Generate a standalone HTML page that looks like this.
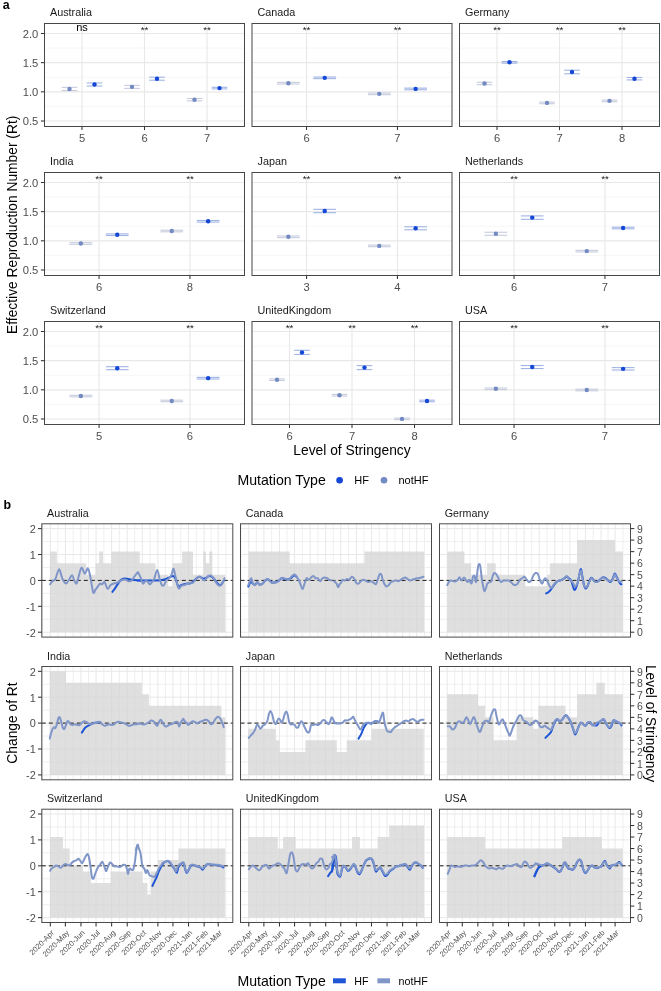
<!DOCTYPE html>
<html><head><meta charset="utf-8"><style>
html,body{margin:0;padding:0;background:#fff;}
svg{display:block;will-change:transform;}
text{font-family:"Liberation Sans",sans-serif;}
</style></head><body>
<svg width="661" height="991" viewBox="0 0 661 991">
<text x="50.0" y="16.2" font-size="10.8" fill="#1a1a1a">Australia</text>
<rect x="44.5" y="23.5" width="200" height="103" fill="#fff"/>
<line x1="44.5" x2="244.5" y1="48.08" y2="48.08" stroke="#f3f3f3" stroke-width="0.7"/>
<line x1="44.5" x2="244.5" y1="77.25" y2="77.25" stroke="#f3f3f3" stroke-width="0.7"/>
<line x1="44.5" x2="244.5" y1="106.41" y2="106.41" stroke="#f3f3f3" stroke-width="0.7"/>
<line x1="44.5" x2="244.5" y1="33.50" y2="33.50" stroke="#e8e8e8" stroke-width="1.1"/>
<line x1="44.5" x2="244.5" y1="62.66" y2="62.66" stroke="#e8e8e8" stroke-width="1.1"/>
<line x1="44.5" x2="244.5" y1="91.83" y2="91.83" stroke="#e8e8e8" stroke-width="1.1"/>
<line x1="44.5" x2="244.5" y1="121.00" y2="121.00" stroke="#e8e8e8" stroke-width="1.1"/>
<line x1="82.00" x2="82.00" y1="23.5" y2="126.5" stroke="#e8e8e8" stroke-width="1.1"/>
<line x1="144.50" x2="144.50" y1="23.5" y2="126.5" stroke="#e8e8e8" stroke-width="1.1"/>
<line x1="207.00" x2="207.00" y1="23.5" y2="126.5" stroke="#e8e8e8" stroke-width="1.1"/>
<line x1="61.69" x2="77.31" y1="87.37" y2="87.37" stroke="#c6ccdd" stroke-width="1.1"/>
<line x1="61.69" x2="77.31" y1="90.57" y2="90.57" stroke="#c6ccdd" stroke-width="1.1"/>
<circle cx="69.50" cy="88.97" r="2.2" fill="#7389c2"/>
<line x1="86.69" x2="102.31" y1="82.98" y2="82.98" stroke="#9fb3e4" stroke-width="1.1"/>
<line x1="86.69" x2="102.31" y1="85.98" y2="85.98" stroke="#9fb3e4" stroke-width="1.1"/>
<circle cx="94.50" cy="84.48" r="2.2" fill="#1547d6"/>
<text x="82.00" y="30.9" font-size="11" text-anchor="middle" fill="#000">ns</text>
<line x1="124.19" x2="139.81" y1="85.37" y2="85.37" stroke="#c6ccdd" stroke-width="1.1"/>
<line x1="124.19" x2="139.81" y1="88.37" y2="88.37" stroke="#c6ccdd" stroke-width="1.1"/>
<circle cx="132.00" cy="86.87" r="2.2" fill="#7389c2"/>
<line x1="149.19" x2="164.81" y1="77.21" y2="77.21" stroke="#9fb3e4" stroke-width="1.1"/>
<line x1="149.19" x2="164.81" y1="80.21" y2="80.21" stroke="#9fb3e4" stroke-width="1.1"/>
<circle cx="157.00" cy="78.71" r="2.2" fill="#1547d6"/>
<text x="144.50" y="32.5" font-size="9.8" text-anchor="middle" fill="#111">**</text>
<line x1="186.69" x2="202.31" y1="98.50" y2="98.50" stroke="#c6ccdd" stroke-width="1.1"/>
<line x1="186.69" x2="202.31" y1="100.90" y2="100.90" stroke="#c6ccdd" stroke-width="1.1"/>
<circle cx="194.50" cy="99.70" r="2.2" fill="#7389c2"/>
<line x1="211.69" x2="227.31" y1="87.30" y2="87.30" stroke="#9fb3e4" stroke-width="1.1"/>
<line x1="211.69" x2="227.31" y1="88.90" y2="88.90" stroke="#9fb3e4" stroke-width="1.1"/>
<circle cx="219.50" cy="88.10" r="2.2" fill="#1547d6"/>
<text x="207.00" y="32.5" font-size="9.8" text-anchor="middle" fill="#111">**</text>
<rect x="44.5" y="23.5" width="200" height="103" fill="none" stroke="#474747" stroke-width="1.0"/>
<line x1="82.00" x2="82.00" y1="126.5" y2="130.1" stroke="#333" stroke-width="1.05"/>
<text x="82.00" y="141.7" font-size="11.2" text-anchor="middle" fill="#4d4d4d">5</text>
<line x1="144.50" x2="144.50" y1="126.5" y2="130.1" stroke="#333" stroke-width="1.05"/>
<text x="144.50" y="141.7" font-size="11.2" text-anchor="middle" fill="#4d4d4d">6</text>
<line x1="207.00" x2="207.00" y1="126.5" y2="130.1" stroke="#333" stroke-width="1.05"/>
<text x="207.00" y="141.7" font-size="11.2" text-anchor="middle" fill="#4d4d4d">7</text>
<line x1="40.9" x2="44.5" y1="33.50" y2="33.50" stroke="#333" stroke-width="1.05"/>
<text x="38.3" y="37.90" font-size="11.2" text-anchor="end" fill="#4d4d4d">2.0</text>
<line x1="40.9" x2="44.5" y1="62.66" y2="62.66" stroke="#333" stroke-width="1.05"/>
<text x="38.3" y="67.06" font-size="11.2" text-anchor="end" fill="#4d4d4d">1.5</text>
<line x1="40.9" x2="44.5" y1="91.83" y2="91.83" stroke="#333" stroke-width="1.05"/>
<text x="38.3" y="96.23" font-size="11.2" text-anchor="end" fill="#4d4d4d">1.0</text>
<line x1="40.9" x2="44.5" y1="121.00" y2="121.00" stroke="#333" stroke-width="1.05"/>
<text x="38.3" y="125.40" font-size="11.2" text-anchor="end" fill="#4d4d4d">0.5</text>
<text x="257.5" y="16.2" font-size="10.8" fill="#1a1a1a">Canada</text>
<rect x="252" y="23.5" width="200" height="103" fill="#fff"/>
<line x1="252" x2="452" y1="48.08" y2="48.08" stroke="#f3f3f3" stroke-width="0.7"/>
<line x1="252" x2="452" y1="77.25" y2="77.25" stroke="#f3f3f3" stroke-width="0.7"/>
<line x1="252" x2="452" y1="106.41" y2="106.41" stroke="#f3f3f3" stroke-width="0.7"/>
<line x1="252" x2="452" y1="33.50" y2="33.50" stroke="#e8e8e8" stroke-width="1.1"/>
<line x1="252" x2="452" y1="62.66" y2="62.66" stroke="#e8e8e8" stroke-width="1.1"/>
<line x1="252" x2="452" y1="91.83" y2="91.83" stroke="#e8e8e8" stroke-width="1.1"/>
<line x1="252" x2="452" y1="121.00" y2="121.00" stroke="#e8e8e8" stroke-width="1.1"/>
<line x1="306.55" x2="306.55" y1="23.5" y2="126.5" stroke="#e8e8e8" stroke-width="1.1"/>
<line x1="397.45" x2="397.45" y1="23.5" y2="126.5" stroke="#e8e8e8" stroke-width="1.1"/>
<line x1="277.00" x2="299.73" y1="82.40" y2="82.40" stroke="#c6ccdd" stroke-width="1.1"/>
<line x1="277.00" x2="299.73" y1="84.00" y2="84.00" stroke="#c6ccdd" stroke-width="1.1"/>
<circle cx="288.36" cy="83.20" r="2.2" fill="#7389c2"/>
<line x1="313.36" x2="336.09" y1="77.03" y2="77.03" stroke="#9fb3e4" stroke-width="1.1"/>
<line x1="313.36" x2="336.09" y1="78.63" y2="78.63" stroke="#9fb3e4" stroke-width="1.1"/>
<circle cx="324.73" cy="77.83" r="2.2" fill="#1547d6"/>
<text x="306.55" y="32.5" font-size="9.8" text-anchor="middle" fill="#111">**</text>
<line x1="367.91" x2="390.64" y1="93.07" y2="93.07" stroke="#c6ccdd" stroke-width="1.1"/>
<line x1="367.91" x2="390.64" y1="94.67" y2="94.67" stroke="#c6ccdd" stroke-width="1.1"/>
<circle cx="379.27" cy="93.87" r="2.2" fill="#7389c2"/>
<line x1="404.27" x2="427.00" y1="88.11" y2="88.11" stroke="#9fb3e4" stroke-width="1.1"/>
<line x1="404.27" x2="427.00" y1="89.71" y2="89.71" stroke="#9fb3e4" stroke-width="1.1"/>
<circle cx="415.64" cy="88.91" r="2.2" fill="#1547d6"/>
<text x="397.45" y="32.5" font-size="9.8" text-anchor="middle" fill="#111">**</text>
<rect x="252" y="23.5" width="200" height="103" fill="none" stroke="#474747" stroke-width="1.0"/>
<line x1="306.55" x2="306.55" y1="126.5" y2="130.1" stroke="#333" stroke-width="1.05"/>
<text x="306.55" y="141.7" font-size="11.2" text-anchor="middle" fill="#4d4d4d">6</text>
<line x1="397.45" x2="397.45" y1="126.5" y2="130.1" stroke="#333" stroke-width="1.05"/>
<text x="397.45" y="141.7" font-size="11.2" text-anchor="middle" fill="#4d4d4d">7</text>
<text x="465.0" y="16.2" font-size="10.8" fill="#1a1a1a">Germany</text>
<rect x="459.5" y="23.5" width="200" height="103" fill="#fff"/>
<line x1="459.5" x2="659.5" y1="48.08" y2="48.08" stroke="#f3f3f3" stroke-width="0.7"/>
<line x1="459.5" x2="659.5" y1="77.25" y2="77.25" stroke="#f3f3f3" stroke-width="0.7"/>
<line x1="459.5" x2="659.5" y1="106.41" y2="106.41" stroke="#f3f3f3" stroke-width="0.7"/>
<line x1="459.5" x2="659.5" y1="33.50" y2="33.50" stroke="#e8e8e8" stroke-width="1.1"/>
<line x1="459.5" x2="659.5" y1="62.66" y2="62.66" stroke="#e8e8e8" stroke-width="1.1"/>
<line x1="459.5" x2="659.5" y1="91.83" y2="91.83" stroke="#e8e8e8" stroke-width="1.1"/>
<line x1="459.5" x2="659.5" y1="121.00" y2="121.00" stroke="#e8e8e8" stroke-width="1.1"/>
<line x1="497.00" x2="497.00" y1="23.5" y2="126.5" stroke="#e8e8e8" stroke-width="1.1"/>
<line x1="559.50" x2="559.50" y1="23.5" y2="126.5" stroke="#e8e8e8" stroke-width="1.1"/>
<line x1="622.00" x2="622.00" y1="23.5" y2="126.5" stroke="#e8e8e8" stroke-width="1.1"/>
<line x1="476.69" x2="492.31" y1="82.29" y2="82.29" stroke="#c6ccdd" stroke-width="1.1"/>
<line x1="476.69" x2="492.31" y1="84.69" y2="84.69" stroke="#c6ccdd" stroke-width="1.1"/>
<circle cx="484.50" cy="83.49" r="2.2" fill="#7389c2"/>
<line x1="501.69" x2="517.31" y1="61.52" y2="61.52" stroke="#9fb3e4" stroke-width="1.1"/>
<line x1="501.69" x2="517.31" y1="63.12" y2="63.12" stroke="#9fb3e4" stroke-width="1.1"/>
<circle cx="509.50" cy="62.32" r="2.2" fill="#1547d6"/>
<text x="497.00" y="32.5" font-size="9.8" text-anchor="middle" fill="#111">**</text>
<line x1="539.19" x2="554.81" y1="102.11" y2="102.11" stroke="#c6ccdd" stroke-width="1.1"/>
<line x1="539.19" x2="554.81" y1="103.71" y2="103.71" stroke="#c6ccdd" stroke-width="1.1"/>
<circle cx="547.00" cy="102.91" r="2.2" fill="#7389c2"/>
<line x1="564.19" x2="579.81" y1="70.20" y2="70.20" stroke="#9fb3e4" stroke-width="1.1"/>
<line x1="564.19" x2="579.81" y1="73.80" y2="73.80" stroke="#9fb3e4" stroke-width="1.1"/>
<circle cx="572.00" cy="72.00" r="2.2" fill="#1547d6"/>
<text x="559.50" y="32.5" font-size="9.8" text-anchor="middle" fill="#111">**</text>
<line x1="601.69" x2="617.31" y1="100.07" y2="100.07" stroke="#c6ccdd" stroke-width="1.1"/>
<line x1="601.69" x2="617.31" y1="101.67" y2="101.67" stroke="#c6ccdd" stroke-width="1.1"/>
<circle cx="609.50" cy="100.87" r="2.2" fill="#7389c2"/>
<line x1="626.69" x2="642.31" y1="77.51" y2="77.51" stroke="#9fb3e4" stroke-width="1.1"/>
<line x1="626.69" x2="642.31" y1="79.91" y2="79.91" stroke="#9fb3e4" stroke-width="1.1"/>
<circle cx="634.50" cy="78.71" r="2.2" fill="#1547d6"/>
<text x="622.00" y="32.5" font-size="9.8" text-anchor="middle" fill="#111">**</text>
<rect x="459.5" y="23.5" width="200" height="103" fill="none" stroke="#474747" stroke-width="1.0"/>
<line x1="497.00" x2="497.00" y1="126.5" y2="130.1" stroke="#333" stroke-width="1.05"/>
<text x="497.00" y="141.7" font-size="11.2" text-anchor="middle" fill="#4d4d4d">6</text>
<line x1="559.50" x2="559.50" y1="126.5" y2="130.1" stroke="#333" stroke-width="1.05"/>
<text x="559.50" y="141.7" font-size="11.2" text-anchor="middle" fill="#4d4d4d">7</text>
<line x1="622.00" x2="622.00" y1="126.5" y2="130.1" stroke="#333" stroke-width="1.05"/>
<text x="622.00" y="141.7" font-size="11.2" text-anchor="middle" fill="#4d4d4d">8</text>
<text x="50.0" y="165.2" font-size="10.8" fill="#1a1a1a">India</text>
<rect x="44.5" y="172.5" width="200" height="103" fill="#fff"/>
<line x1="44.5" x2="244.5" y1="197.08" y2="197.08" stroke="#f3f3f3" stroke-width="0.7"/>
<line x1="44.5" x2="244.5" y1="226.25" y2="226.25" stroke="#f3f3f3" stroke-width="0.7"/>
<line x1="44.5" x2="244.5" y1="255.41" y2="255.41" stroke="#f3f3f3" stroke-width="0.7"/>
<line x1="44.5" x2="244.5" y1="182.50" y2="182.50" stroke="#e8e8e8" stroke-width="1.1"/>
<line x1="44.5" x2="244.5" y1="211.66" y2="211.66" stroke="#e8e8e8" stroke-width="1.1"/>
<line x1="44.5" x2="244.5" y1="240.83" y2="240.83" stroke="#e8e8e8" stroke-width="1.1"/>
<line x1="44.5" x2="244.5" y1="270.00" y2="270.00" stroke="#e8e8e8" stroke-width="1.1"/>
<line x1="99.05" x2="99.05" y1="172.5" y2="275.5" stroke="#e8e8e8" stroke-width="1.1"/>
<line x1="189.95" x2="189.95" y1="172.5" y2="275.5" stroke="#e8e8e8" stroke-width="1.1"/>
<line x1="69.50" x2="92.23" y1="242.71" y2="242.71" stroke="#c6ccdd" stroke-width="1.1"/>
<line x1="69.50" x2="92.23" y1="244.31" y2="244.31" stroke="#c6ccdd" stroke-width="1.1"/>
<circle cx="80.86" cy="243.51" r="2.2" fill="#7389c2"/>
<line x1="105.86" x2="128.59" y1="233.91" y2="233.91" stroke="#9fb3e4" stroke-width="1.1"/>
<line x1="105.86" x2="128.59" y1="235.51" y2="235.51" stroke="#9fb3e4" stroke-width="1.1"/>
<circle cx="117.23" cy="234.71" r="2.2" fill="#1547d6"/>
<text x="99.05" y="181.5" font-size="9.8" text-anchor="middle" fill="#111">**</text>
<line x1="160.41" x2="183.14" y1="230.23" y2="230.23" stroke="#c6ccdd" stroke-width="1.1"/>
<line x1="160.41" x2="183.14" y1="231.83" y2="231.83" stroke="#c6ccdd" stroke-width="1.1"/>
<circle cx="171.77" cy="231.03" r="2.2" fill="#7389c2"/>
<line x1="196.77" x2="219.50" y1="220.49" y2="220.49" stroke="#9fb3e4" stroke-width="1.1"/>
<line x1="196.77" x2="219.50" y1="222.09" y2="222.09" stroke="#9fb3e4" stroke-width="1.1"/>
<circle cx="208.14" cy="221.29" r="2.2" fill="#1547d6"/>
<text x="189.95" y="181.5" font-size="9.8" text-anchor="middle" fill="#111">**</text>
<rect x="44.5" y="172.5" width="200" height="103" fill="none" stroke="#474747" stroke-width="1.0"/>
<line x1="99.05" x2="99.05" y1="275.5" y2="279.1" stroke="#333" stroke-width="1.05"/>
<text x="99.05" y="290.7" font-size="11.2" text-anchor="middle" fill="#4d4d4d">6</text>
<line x1="189.95" x2="189.95" y1="275.5" y2="279.1" stroke="#333" stroke-width="1.05"/>
<text x="189.95" y="290.7" font-size="11.2" text-anchor="middle" fill="#4d4d4d">8</text>
<line x1="40.9" x2="44.5" y1="182.50" y2="182.50" stroke="#333" stroke-width="1.05"/>
<text x="38.3" y="186.90" font-size="11.2" text-anchor="end" fill="#4d4d4d">2.0</text>
<line x1="40.9" x2="44.5" y1="211.66" y2="211.66" stroke="#333" stroke-width="1.05"/>
<text x="38.3" y="216.06" font-size="11.2" text-anchor="end" fill="#4d4d4d">1.5</text>
<line x1="40.9" x2="44.5" y1="240.83" y2="240.83" stroke="#333" stroke-width="1.05"/>
<text x="38.3" y="245.23" font-size="11.2" text-anchor="end" fill="#4d4d4d">1.0</text>
<line x1="40.9" x2="44.5" y1="270.00" y2="270.00" stroke="#333" stroke-width="1.05"/>
<text x="38.3" y="274.39" font-size="11.2" text-anchor="end" fill="#4d4d4d">0.5</text>
<text x="257.5" y="165.2" font-size="10.8" fill="#1a1a1a">Japan</text>
<rect x="252" y="172.5" width="200" height="103" fill="#fff"/>
<line x1="252" x2="452" y1="197.08" y2="197.08" stroke="#f3f3f3" stroke-width="0.7"/>
<line x1="252" x2="452" y1="226.25" y2="226.25" stroke="#f3f3f3" stroke-width="0.7"/>
<line x1="252" x2="452" y1="255.41" y2="255.41" stroke="#f3f3f3" stroke-width="0.7"/>
<line x1="252" x2="452" y1="182.50" y2="182.50" stroke="#e8e8e8" stroke-width="1.1"/>
<line x1="252" x2="452" y1="211.66" y2="211.66" stroke="#e8e8e8" stroke-width="1.1"/>
<line x1="252" x2="452" y1="240.83" y2="240.83" stroke="#e8e8e8" stroke-width="1.1"/>
<line x1="252" x2="452" y1="270.00" y2="270.00" stroke="#e8e8e8" stroke-width="1.1"/>
<line x1="306.55" x2="306.55" y1="172.5" y2="275.5" stroke="#e8e8e8" stroke-width="1.1"/>
<line x1="397.45" x2="397.45" y1="172.5" y2="275.5" stroke="#e8e8e8" stroke-width="1.1"/>
<line x1="277.00" x2="299.73" y1="236.01" y2="236.01" stroke="#c6ccdd" stroke-width="1.1"/>
<line x1="277.00" x2="299.73" y1="237.61" y2="237.61" stroke="#c6ccdd" stroke-width="1.1"/>
<circle cx="288.36" cy="236.81" r="2.2" fill="#7389c2"/>
<line x1="313.36" x2="336.09" y1="209.32" y2="209.32" stroke="#9fb3e4" stroke-width="1.1"/>
<line x1="313.36" x2="336.09" y1="212.72" y2="212.72" stroke="#9fb3e4" stroke-width="1.1"/>
<circle cx="324.73" cy="211.02" r="2.2" fill="#1547d6"/>
<text x="306.55" y="181.5" font-size="9.8" text-anchor="middle" fill="#111">**</text>
<line x1="367.91" x2="390.64" y1="245.10" y2="245.10" stroke="#c6ccdd" stroke-width="1.1"/>
<line x1="367.91" x2="390.64" y1="246.70" y2="246.70" stroke="#c6ccdd" stroke-width="1.1"/>
<circle cx="379.27" cy="245.90" r="2.2" fill="#7389c2"/>
<line x1="404.27" x2="427.00" y1="226.79" y2="226.79" stroke="#9fb3e4" stroke-width="1.1"/>
<line x1="404.27" x2="427.00" y1="229.79" y2="229.79" stroke="#9fb3e4" stroke-width="1.1"/>
<circle cx="415.64" cy="228.29" r="2.2" fill="#1547d6"/>
<text x="397.45" y="181.5" font-size="9.8" text-anchor="middle" fill="#111">**</text>
<rect x="252" y="172.5" width="200" height="103" fill="none" stroke="#474747" stroke-width="1.0"/>
<line x1="306.55" x2="306.55" y1="275.5" y2="279.1" stroke="#333" stroke-width="1.05"/>
<text x="306.55" y="290.7" font-size="11.2" text-anchor="middle" fill="#4d4d4d">3</text>
<line x1="397.45" x2="397.45" y1="275.5" y2="279.1" stroke="#333" stroke-width="1.05"/>
<text x="397.45" y="290.7" font-size="11.2" text-anchor="middle" fill="#4d4d4d">4</text>
<text x="465.0" y="165.2" font-size="10.8" fill="#1a1a1a">Netherlands</text>
<rect x="459.5" y="172.5" width="200" height="103" fill="#fff"/>
<line x1="459.5" x2="659.5" y1="197.08" y2="197.08" stroke="#f3f3f3" stroke-width="0.7"/>
<line x1="459.5" x2="659.5" y1="226.25" y2="226.25" stroke="#f3f3f3" stroke-width="0.7"/>
<line x1="459.5" x2="659.5" y1="255.41" y2="255.41" stroke="#f3f3f3" stroke-width="0.7"/>
<line x1="459.5" x2="659.5" y1="182.50" y2="182.50" stroke="#e8e8e8" stroke-width="1.1"/>
<line x1="459.5" x2="659.5" y1="211.66" y2="211.66" stroke="#e8e8e8" stroke-width="1.1"/>
<line x1="459.5" x2="659.5" y1="240.83" y2="240.83" stroke="#e8e8e8" stroke-width="1.1"/>
<line x1="459.5" x2="659.5" y1="270.00" y2="270.00" stroke="#e8e8e8" stroke-width="1.1"/>
<line x1="514.05" x2="514.05" y1="172.5" y2="275.5" stroke="#e8e8e8" stroke-width="1.1"/>
<line x1="604.95" x2="604.95" y1="172.5" y2="275.5" stroke="#e8e8e8" stroke-width="1.1"/>
<line x1="484.50" x2="507.23" y1="232.27" y2="232.27" stroke="#c6ccdd" stroke-width="1.1"/>
<line x1="484.50" x2="507.23" y1="235.27" y2="235.27" stroke="#c6ccdd" stroke-width="1.1"/>
<circle cx="495.86" cy="233.77" r="2.2" fill="#7389c2"/>
<line x1="520.86" x2="543.59" y1="215.91" y2="215.91" stroke="#9fb3e4" stroke-width="1.1"/>
<line x1="520.86" x2="543.59" y1="219.31" y2="219.31" stroke="#9fb3e4" stroke-width="1.1"/>
<circle cx="532.23" cy="217.61" r="2.2" fill="#1547d6"/>
<text x="514.05" y="181.5" font-size="9.8" text-anchor="middle" fill="#111">**</text>
<line x1="575.41" x2="598.14" y1="250.30" y2="250.30" stroke="#c6ccdd" stroke-width="1.1"/>
<line x1="575.41" x2="598.14" y1="251.90" y2="251.90" stroke="#c6ccdd" stroke-width="1.1"/>
<circle cx="586.77" cy="251.10" r="2.2" fill="#7389c2"/>
<line x1="611.77" x2="634.50" y1="227.20" y2="227.20" stroke="#9fb3e4" stroke-width="1.1"/>
<line x1="611.77" x2="634.50" y1="228.80" y2="228.80" stroke="#9fb3e4" stroke-width="1.1"/>
<circle cx="623.14" cy="228.00" r="2.2" fill="#1547d6"/>
<text x="604.95" y="181.5" font-size="9.8" text-anchor="middle" fill="#111">**</text>
<rect x="459.5" y="172.5" width="200" height="103" fill="none" stroke="#474747" stroke-width="1.0"/>
<line x1="514.05" x2="514.05" y1="275.5" y2="279.1" stroke="#333" stroke-width="1.05"/>
<text x="514.05" y="290.7" font-size="11.2" text-anchor="middle" fill="#4d4d4d">6</text>
<line x1="604.95" x2="604.95" y1="275.5" y2="279.1" stroke="#333" stroke-width="1.05"/>
<text x="604.95" y="290.7" font-size="11.2" text-anchor="middle" fill="#4d4d4d">7</text>
<text x="50.0" y="314.2" font-size="10.8" fill="#1a1a1a">Switzerland</text>
<rect x="44.5" y="321.5" width="200" height="103" fill="#fff"/>
<line x1="44.5" x2="244.5" y1="346.08" y2="346.08" stroke="#f3f3f3" stroke-width="0.7"/>
<line x1="44.5" x2="244.5" y1="375.25" y2="375.25" stroke="#f3f3f3" stroke-width="0.7"/>
<line x1="44.5" x2="244.5" y1="404.41" y2="404.41" stroke="#f3f3f3" stroke-width="0.7"/>
<line x1="44.5" x2="244.5" y1="331.50" y2="331.50" stroke="#e8e8e8" stroke-width="1.1"/>
<line x1="44.5" x2="244.5" y1="360.67" y2="360.67" stroke="#e8e8e8" stroke-width="1.1"/>
<line x1="44.5" x2="244.5" y1="389.83" y2="389.83" stroke="#e8e8e8" stroke-width="1.1"/>
<line x1="44.5" x2="244.5" y1="419.00" y2="419.00" stroke="#e8e8e8" stroke-width="1.1"/>
<line x1="99.05" x2="99.05" y1="321.5" y2="424.5" stroke="#e8e8e8" stroke-width="1.1"/>
<line x1="189.95" x2="189.95" y1="321.5" y2="424.5" stroke="#e8e8e8" stroke-width="1.1"/>
<line x1="69.50" x2="92.23" y1="395.27" y2="395.27" stroke="#c6ccdd" stroke-width="1.1"/>
<line x1="69.50" x2="92.23" y1="396.87" y2="396.87" stroke="#c6ccdd" stroke-width="1.1"/>
<circle cx="80.86" cy="396.07" r="2.2" fill="#7389c2"/>
<line x1="105.86" x2="128.59" y1="366.69" y2="366.69" stroke="#9fb3e4" stroke-width="1.1"/>
<line x1="105.86" x2="128.59" y1="369.69" y2="369.69" stroke="#9fb3e4" stroke-width="1.1"/>
<circle cx="117.23" cy="368.19" r="2.2" fill="#1547d6"/>
<text x="99.05" y="330.5" font-size="9.8" text-anchor="middle" fill="#111">**</text>
<line x1="160.41" x2="183.14" y1="400.17" y2="400.17" stroke="#c6ccdd" stroke-width="1.1"/>
<line x1="160.41" x2="183.14" y1="401.77" y2="401.77" stroke="#c6ccdd" stroke-width="1.1"/>
<circle cx="171.77" cy="400.97" r="2.2" fill="#7389c2"/>
<line x1="196.77" x2="219.50" y1="377.36" y2="377.36" stroke="#9fb3e4" stroke-width="1.1"/>
<line x1="196.77" x2="219.50" y1="378.96" y2="378.96" stroke="#9fb3e4" stroke-width="1.1"/>
<circle cx="208.14" cy="378.16" r="2.2" fill="#1547d6"/>
<text x="189.95" y="330.5" font-size="9.8" text-anchor="middle" fill="#111">**</text>
<rect x="44.5" y="321.5" width="200" height="103" fill="none" stroke="#474747" stroke-width="1.0"/>
<line x1="99.05" x2="99.05" y1="424.5" y2="428.1" stroke="#333" stroke-width="1.05"/>
<text x="99.05" y="439.7" font-size="11.2" text-anchor="middle" fill="#4d4d4d">5</text>
<line x1="189.95" x2="189.95" y1="424.5" y2="428.1" stroke="#333" stroke-width="1.05"/>
<text x="189.95" y="439.7" font-size="11.2" text-anchor="middle" fill="#4d4d4d">6</text>
<line x1="40.9" x2="44.5" y1="331.50" y2="331.50" stroke="#333" stroke-width="1.05"/>
<text x="38.3" y="335.90" font-size="11.2" text-anchor="end" fill="#4d4d4d">2.0</text>
<line x1="40.9" x2="44.5" y1="360.67" y2="360.67" stroke="#333" stroke-width="1.05"/>
<text x="38.3" y="365.06" font-size="11.2" text-anchor="end" fill="#4d4d4d">1.5</text>
<line x1="40.9" x2="44.5" y1="389.83" y2="389.83" stroke="#333" stroke-width="1.05"/>
<text x="38.3" y="394.23" font-size="11.2" text-anchor="end" fill="#4d4d4d">1.0</text>
<line x1="40.9" x2="44.5" y1="419.00" y2="419.00" stroke="#333" stroke-width="1.05"/>
<text x="38.3" y="423.39" font-size="11.2" text-anchor="end" fill="#4d4d4d">0.5</text>
<text x="257.5" y="314.2" font-size="10.8" fill="#1a1a1a">UnitedKingdom</text>
<rect x="252" y="321.5" width="200" height="103" fill="#fff"/>
<line x1="252" x2="452" y1="346.08" y2="346.08" stroke="#f3f3f3" stroke-width="0.7"/>
<line x1="252" x2="452" y1="375.25" y2="375.25" stroke="#f3f3f3" stroke-width="0.7"/>
<line x1="252" x2="452" y1="404.41" y2="404.41" stroke="#f3f3f3" stroke-width="0.7"/>
<line x1="252" x2="452" y1="331.50" y2="331.50" stroke="#e8e8e8" stroke-width="1.1"/>
<line x1="252" x2="452" y1="360.67" y2="360.67" stroke="#e8e8e8" stroke-width="1.1"/>
<line x1="252" x2="452" y1="389.83" y2="389.83" stroke="#e8e8e8" stroke-width="1.1"/>
<line x1="252" x2="452" y1="419.00" y2="419.00" stroke="#e8e8e8" stroke-width="1.1"/>
<line x1="289.50" x2="289.50" y1="321.5" y2="424.5" stroke="#e8e8e8" stroke-width="1.1"/>
<line x1="352.00" x2="352.00" y1="321.5" y2="424.5" stroke="#e8e8e8" stroke-width="1.1"/>
<line x1="414.50" x2="414.50" y1="321.5" y2="424.5" stroke="#e8e8e8" stroke-width="1.1"/>
<line x1="269.19" x2="284.81" y1="378.88" y2="378.88" stroke="#c6ccdd" stroke-width="1.1"/>
<line x1="269.19" x2="284.81" y1="380.48" y2="380.48" stroke="#c6ccdd" stroke-width="1.1"/>
<circle cx="277.00" cy="379.68" r="2.2" fill="#7389c2"/>
<line x1="294.19" x2="309.81" y1="350.28" y2="350.28" stroke="#9fb3e4" stroke-width="1.1"/>
<line x1="294.19" x2="309.81" y1="354.48" y2="354.48" stroke="#9fb3e4" stroke-width="1.1"/>
<circle cx="302.00" cy="352.38" r="2.2" fill="#1547d6"/>
<text x="289.50" y="330.5" font-size="9.8" text-anchor="middle" fill="#111">**</text>
<line x1="331.69" x2="347.31" y1="394.40" y2="394.40" stroke="#c6ccdd" stroke-width="1.1"/>
<line x1="331.69" x2="347.31" y1="396.00" y2="396.00" stroke="#c6ccdd" stroke-width="1.1"/>
<circle cx="339.50" cy="395.20" r="2.2" fill="#7389c2"/>
<line x1="356.69" x2="372.31" y1="365.61" y2="365.61" stroke="#9fb3e4" stroke-width="1.1"/>
<line x1="356.69" x2="372.31" y1="369.61" y2="369.61" stroke="#9fb3e4" stroke-width="1.1"/>
<circle cx="364.50" cy="367.61" r="2.2" fill="#1547d6"/>
<text x="352.00" y="330.5" font-size="9.8" text-anchor="middle" fill="#111">**</text>
<line x1="394.19" x2="409.81" y1="418.08" y2="418.08" stroke="#c6ccdd" stroke-width="1.1"/>
<line x1="394.19" x2="409.81" y1="419.68" y2="419.68" stroke="#c6ccdd" stroke-width="1.1"/>
<circle cx="402.00" cy="418.88" r="2.2" fill="#7389c2"/>
<line x1="419.19" x2="434.81" y1="400.17" y2="400.17" stroke="#9fb3e4" stroke-width="1.1"/>
<line x1="419.19" x2="434.81" y1="401.77" y2="401.77" stroke="#9fb3e4" stroke-width="1.1"/>
<circle cx="427.00" cy="400.97" r="2.2" fill="#1547d6"/>
<text x="414.50" y="330.5" font-size="9.8" text-anchor="middle" fill="#111">**</text>
<rect x="252" y="321.5" width="200" height="103" fill="none" stroke="#474747" stroke-width="1.0"/>
<line x1="289.50" x2="289.50" y1="424.5" y2="428.1" stroke="#333" stroke-width="1.05"/>
<text x="289.50" y="439.7" font-size="11.2" text-anchor="middle" fill="#4d4d4d">6</text>
<line x1="352.00" x2="352.00" y1="424.5" y2="428.1" stroke="#333" stroke-width="1.05"/>
<text x="352.00" y="439.7" font-size="11.2" text-anchor="middle" fill="#4d4d4d">7</text>
<line x1="414.50" x2="414.50" y1="424.5" y2="428.1" stroke="#333" stroke-width="1.05"/>
<text x="414.50" y="439.7" font-size="11.2" text-anchor="middle" fill="#4d4d4d">8</text>
<text x="465.0" y="314.2" font-size="10.8" fill="#1a1a1a">USA</text>
<rect x="459.5" y="321.5" width="200" height="103" fill="#fff"/>
<line x1="459.5" x2="659.5" y1="346.08" y2="346.08" stroke="#f3f3f3" stroke-width="0.7"/>
<line x1="459.5" x2="659.5" y1="375.25" y2="375.25" stroke="#f3f3f3" stroke-width="0.7"/>
<line x1="459.5" x2="659.5" y1="404.41" y2="404.41" stroke="#f3f3f3" stroke-width="0.7"/>
<line x1="459.5" x2="659.5" y1="331.50" y2="331.50" stroke="#e8e8e8" stroke-width="1.1"/>
<line x1="459.5" x2="659.5" y1="360.67" y2="360.67" stroke="#e8e8e8" stroke-width="1.1"/>
<line x1="459.5" x2="659.5" y1="389.83" y2="389.83" stroke="#e8e8e8" stroke-width="1.1"/>
<line x1="459.5" x2="659.5" y1="419.00" y2="419.00" stroke="#e8e8e8" stroke-width="1.1"/>
<line x1="514.05" x2="514.05" y1="321.5" y2="424.5" stroke="#e8e8e8" stroke-width="1.1"/>
<line x1="604.95" x2="604.95" y1="321.5" y2="424.5" stroke="#e8e8e8" stroke-width="1.1"/>
<line x1="484.50" x2="507.23" y1="387.98" y2="387.98" stroke="#c6ccdd" stroke-width="1.1"/>
<line x1="484.50" x2="507.23" y1="389.58" y2="389.58" stroke="#c6ccdd" stroke-width="1.1"/>
<circle cx="495.86" cy="388.78" r="2.2" fill="#7389c2"/>
<line x1="520.86" x2="543.59" y1="365.52" y2="365.52" stroke="#9fb3e4" stroke-width="1.1"/>
<line x1="520.86" x2="543.59" y1="368.52" y2="368.52" stroke="#9fb3e4" stroke-width="1.1"/>
<circle cx="532.23" cy="367.02" r="2.2" fill="#1547d6"/>
<text x="514.05" y="330.5" font-size="9.8" text-anchor="middle" fill="#111">**</text>
<line x1="575.41" x2="598.14" y1="389.20" y2="389.20" stroke="#c6ccdd" stroke-width="1.1"/>
<line x1="575.41" x2="598.14" y1="390.80" y2="390.80" stroke="#c6ccdd" stroke-width="1.1"/>
<circle cx="586.77" cy="390.00" r="2.2" fill="#7389c2"/>
<line x1="611.77" x2="634.50" y1="367.63" y2="367.63" stroke="#9fb3e4" stroke-width="1.1"/>
<line x1="611.77" x2="634.50" y1="370.03" y2="370.03" stroke="#9fb3e4" stroke-width="1.1"/>
<circle cx="623.14" cy="368.83" r="2.2" fill="#1547d6"/>
<text x="604.95" y="330.5" font-size="9.8" text-anchor="middle" fill="#111">**</text>
<rect x="459.5" y="321.5" width="200" height="103" fill="none" stroke="#474747" stroke-width="1.0"/>
<line x1="514.05" x2="514.05" y1="424.5" y2="428.1" stroke="#333" stroke-width="1.05"/>
<text x="514.05" y="439.7" font-size="11.2" text-anchor="middle" fill="#4d4d4d">6</text>
<line x1="604.95" x2="604.95" y1="424.5" y2="428.1" stroke="#333" stroke-width="1.05"/>
<text x="604.95" y="439.7" font-size="11.2" text-anchor="middle" fill="#4d4d4d">7</text>
<text x="2.8" y="8.9" font-size="12.4" font-weight="bold" fill="#000">a</text>
<text transform="translate(16.8,224.8) rotate(-90)" font-size="13.8" text-anchor="middle" fill="#000">Effective Reproduction Number (Rt)</text>
<text x="352" y="455.2" font-size="13.8" text-anchor="middle" fill="#000">Level of Stringency</text>
<text x="237.5" y="485.3" font-size="14.1" fill="#000">Mutation Type</text>
<circle cx="339.6" cy="480.2" r="3.3" fill="#1547d6"/>
<text x="354.2" y="484.4" font-size="11" fill="#000">HF</text>
<circle cx="384" cy="480.2" r="3.3" fill="#7389c2"/>
<text x="398.5" y="484.4" font-size="11" fill="#000">notHF</text>
<text x="47.1" y="517.0" font-size="10.7" fill="#1a1a1a">Australia</text>
<rect x="41.8" y="523.8" width="191" height="113.3" fill="#fff"/>
<line x1="41.8" x2="232.8" y1="541.55" y2="541.55" stroke="#ededed" stroke-width="0.9"/>
<line x1="41.8" x2="232.8" y1="567.45" y2="567.45" stroke="#ededed" stroke-width="0.9"/>
<line x1="41.8" x2="232.8" y1="593.35" y2="593.35" stroke="#ededed" stroke-width="0.9"/>
<line x1="41.8" x2="232.8" y1="619.25" y2="619.25" stroke="#ededed" stroke-width="0.9"/>
<line x1="42.51" x2="42.51" y1="523.8" y2="637.0999999999999" stroke="#ededed" stroke-width="0.9"/>
<line x1="57.84" x2="57.84" y1="523.8" y2="637.0999999999999" stroke="#ededed" stroke-width="0.9"/>
<line x1="73.17" x2="73.17" y1="523.8" y2="637.0999999999999" stroke="#ededed" stroke-width="0.9"/>
<line x1="88.51" x2="88.51" y1="523.8" y2="637.0999999999999" stroke="#ededed" stroke-width="0.9"/>
<line x1="103.84" x2="103.84" y1="523.8" y2="637.0999999999999" stroke="#ededed" stroke-width="0.9"/>
<line x1="119.42" x2="119.42" y1="523.8" y2="637.0999999999999" stroke="#ededed" stroke-width="0.9"/>
<line x1="134.75" x2="134.75" y1="523.8" y2="637.0999999999999" stroke="#ededed" stroke-width="0.9"/>
<line x1="150.09" x2="150.09" y1="523.8" y2="637.0999999999999" stroke="#ededed" stroke-width="0.9"/>
<line x1="165.42" x2="165.42" y1="523.8" y2="637.0999999999999" stroke="#ededed" stroke-width="0.9"/>
<line x1="180.75" x2="180.75" y1="523.8" y2="637.0999999999999" stroke="#ededed" stroke-width="0.9"/>
<line x1="196.33" x2="196.33" y1="523.8" y2="637.0999999999999" stroke="#ededed" stroke-width="0.9"/>
<line x1="211.16" x2="211.16" y1="523.8" y2="637.0999999999999" stroke="#ededed" stroke-width="0.9"/>
<line x1="225.99" x2="225.99" y1="523.8" y2="637.0999999999999" stroke="#ededed" stroke-width="0.9"/>
<line x1="41.8" x2="232.8" y1="528.60" y2="528.60" stroke="#e8e8e8" stroke-width="1"/>
<line x1="41.8" x2="232.8" y1="554.50" y2="554.50" stroke="#e8e8e8" stroke-width="1"/>
<line x1="41.8" x2="232.8" y1="580.40" y2="580.40" stroke="#e8e8e8" stroke-width="1"/>
<line x1="41.8" x2="232.8" y1="606.30" y2="606.30" stroke="#e8e8e8" stroke-width="1"/>
<line x1="41.8" x2="232.8" y1="632.20" y2="632.20" stroke="#e8e8e8" stroke-width="1"/>
<line x1="50.30" x2="50.30" y1="523.8" y2="637.0999999999999" stroke="#e8e8e8" stroke-width="1"/>
<line x1="65.38" x2="65.38" y1="523.8" y2="637.0999999999999" stroke="#e8e8e8" stroke-width="1"/>
<line x1="80.96" x2="80.96" y1="523.8" y2="637.0999999999999" stroke="#e8e8e8" stroke-width="1"/>
<line x1="96.05" x2="96.05" y1="523.8" y2="637.0999999999999" stroke="#e8e8e8" stroke-width="1"/>
<line x1="111.63" x2="111.63" y1="523.8" y2="637.0999999999999" stroke="#e8e8e8" stroke-width="1"/>
<line x1="127.21" x2="127.21" y1="523.8" y2="637.0999999999999" stroke="#e8e8e8" stroke-width="1"/>
<line x1="142.29" x2="142.29" y1="523.8" y2="637.0999999999999" stroke="#e8e8e8" stroke-width="1"/>
<line x1="157.88" x2="157.88" y1="523.8" y2="637.0999999999999" stroke="#e8e8e8" stroke-width="1"/>
<line x1="172.96" x2="172.96" y1="523.8" y2="637.0999999999999" stroke="#e8e8e8" stroke-width="1"/>
<line x1="188.54" x2="188.54" y1="523.8" y2="637.0999999999999" stroke="#e8e8e8" stroke-width="1"/>
<line x1="204.13" x2="204.13" y1="523.8" y2="637.0999999999999" stroke="#e8e8e8" stroke-width="1"/>
<line x1="218.20" x2="218.20" y1="523.8" y2="637.0999999999999" stroke="#e8e8e8" stroke-width="1"/>
<path d="M50.10,632.20V551.62H56.90V632.20ZM56.90,632.20V563.13H86.10V632.20ZM86.10,632.20V574.64H95.50V632.20ZM95.50,632.20V563.13H99.20V632.20ZM99.20,632.20V551.62H103.00V632.20ZM103.00,632.20V563.13H111.30V632.20ZM111.30,632.20V551.62H139.80V632.20ZM139.80,632.20V563.13H155.50V632.20ZM155.50,632.20V574.64H168.20V632.20ZM168.20,632.20V586.16H172.40V632.20ZM172.40,632.20V563.13H182.10V632.20ZM182.10,632.20V551.62H193.00V632.20ZM193.00,632.20V574.64H203.30V632.20ZM203.30,632.20V551.62H205.90V632.20ZM205.90,632.20V563.13H209.30V632.20ZM209.30,632.20V551.62H212.30V632.20ZM212.30,632.20V574.64H225.30V632.20Z" fill="#d4d4d4" fill-opacity="0.75"/>
<line x1="41.8" x2="232.8" y1="580.40" y2="580.40" stroke="#1a1a1a" stroke-width="1" stroke-dasharray="4,3"/>
<path d="M112.41,591.86 C112.86,591.23 114.17,589.47 115.13,588.08 C116.09,586.69 117.15,584.93 118.16,583.54 C119.16,582.15 120.17,580.59 121.18,579.76 C122.19,578.93 123.07,578.67 124.21,578.55 C125.34,578.42 126.73,578.80 127.99,579.00 C129.25,579.20 129.60,579.51 131.77,579.76 C133.94,580.01 139.46,580.39 141.00,580.51" fill="none" stroke="#1d55d6" stroke-width="2.0" stroke-linejoin="round" stroke-linecap="round"/>
<path d="M137.54,580.51 C139.30,580.51 145.10,580.51 148.13,580.51 C151.15,580.51 153.17,580.64 155.69,580.51 C158.21,580.39 160.99,580.26 163.26,579.76 C165.53,579.25 167.67,578.12 169.31,577.49 C170.95,576.86 172.08,575.85 173.09,575.98 C174.10,576.10 174.48,576.48 175.36,578.25 C176.24,580.01 177.38,585.43 178.39,586.57 C179.39,587.70 179.90,585.56 181.41,585.05 C182.92,584.55 185.95,583.84 187.46,583.54 C188.98,583.24 189.48,583.62 190.49,583.24 C191.50,582.86 192.51,582.10 193.51,581.27 C194.52,580.44 195.53,579.00 196.54,578.25 C197.55,577.49 198.56,576.73 199.57,576.73 C200.57,576.73 201.58,577.99 202.59,578.25 C203.60,578.50 204.61,578.62 205.62,578.25 C206.63,577.87 207.63,576.23 208.64,575.98 C209.65,575.72 210.66,576.10 211.67,576.73 C212.68,577.36 213.69,578.62 214.69,579.76 C215.70,580.89 216.71,582.66 217.72,583.54 C218.73,584.42 219.74,585.56 220.75,585.05 C221.75,584.55 223.27,581.27 223.77,580.51" fill="none" stroke="#1d55d6" stroke-width="2.0" stroke-linejoin="round" stroke-linecap="round"/>
<path d="M50.08,584.30 C50.46,583.79 51.46,582.15 52.35,581.27 C53.23,580.39 54.24,581.02 55.37,579.00 C56.51,576.98 58.02,569.29 59.15,569.17 C60.29,569.04 61.05,575.85 62.18,578.25 C63.31,580.64 64.83,583.29 65.96,583.54 C67.10,583.79 67.98,581.14 68.99,579.76 C70.00,578.37 71.13,575.09 72.01,575.22 C72.90,575.35 73.53,579.13 74.28,580.51 C75.04,581.90 75.80,584.30 76.55,583.54 C77.31,582.78 77.99,578.62 78.82,575.98 C79.65,573.33 80.54,568.03 81.54,567.66 C82.55,567.28 83.81,573.58 84.87,573.71 C85.93,573.83 87.02,568.03 87.90,568.41 C88.78,568.79 89.29,571.99 90.17,575.98 C91.05,579.96 92.31,590.05 93.19,592.31 C94.08,594.58 94.71,590.55 95.46,589.59 C96.22,588.63 96.98,587.57 97.73,586.57 C98.49,585.56 99.25,583.92 100.00,583.54 C100.76,583.16 101.51,584.55 102.27,584.30 C103.03,584.04 103.66,581.27 104.54,582.03 C105.42,582.78 106.56,588.33 107.57,588.84 C108.57,589.34 109.58,585.94 110.59,585.05 C111.60,584.17 112.61,583.92 113.62,583.54 C114.63,583.16 115.63,583.16 116.64,582.78 C117.65,582.41 118.66,581.78 119.67,581.27 C120.68,580.77 121.69,580.01 122.69,579.76 C123.70,579.51 124.71,579.51 125.72,579.76 C126.73,580.01 127.74,581.14 128.75,581.27 C129.75,581.40 130.76,581.40 131.77,580.51 C132.78,579.63 133.79,577.36 134.80,575.98 C135.81,574.59 137.32,572.82 137.82,572.19" fill="none" stroke="#8096c8" stroke-width="2.0" stroke-linejoin="round" stroke-linecap="round"/>
<path d="M138.30,572.65 C138.67,573.45 139.81,575.67 140.56,577.49 C141.32,579.30 142.08,582.91 142.83,583.54 C143.59,584.17 144.35,581.65 145.10,581.27 C145.86,580.89 146.62,580.77 147.37,581.27 C148.13,581.78 148.89,584.17 149.64,584.30 C150.40,584.42 151.15,582.91 151.91,582.03 C152.67,581.14 153.30,581.02 154.18,579.00 C155.06,576.98 156.32,570.05 157.21,569.92 C158.09,569.80 158.72,575.72 159.48,578.25 C160.23,580.77 160.99,583.92 161.74,585.05 C162.50,586.19 163.26,585.81 164.01,585.05 C164.77,584.30 165.40,581.65 166.28,580.51 C167.17,579.38 168.43,579.25 169.31,578.25 C170.19,577.24 170.87,576.05 171.58,574.46 C172.28,572.87 172.91,568.46 173.54,568.71 C174.17,568.97 174.55,572.75 175.36,575.98 C176.17,579.20 177.38,586.44 178.39,588.08 C179.39,589.72 180.40,586.31 181.41,585.81 C182.42,585.31 183.43,585.43 184.44,585.05 C185.45,584.67 186.45,583.92 187.46,583.54 C188.47,583.16 189.61,582.91 190.49,582.78 C191.37,582.66 192.00,583.16 192.76,582.78 C193.51,582.41 194.27,581.40 195.03,580.51 C195.78,579.63 196.54,578.12 197.30,577.49 C198.05,576.86 198.81,576.61 199.57,576.73 C200.32,576.86 201.08,577.61 201.84,578.25 C202.59,578.88 203.22,580.64 204.10,580.51 C204.99,580.39 206.12,578.37 207.13,577.49 C208.14,576.61 209.15,575.22 210.16,575.22 C211.16,575.22 212.17,576.23 213.18,577.49 C214.19,578.75 215.20,581.40 216.21,582.78 C217.22,584.17 218.22,585.68 219.23,585.81 C220.24,585.94 221.38,584.80 222.26,583.54 C223.14,582.28 224.15,579.13 224.53,578.25" fill="none" stroke="#8096c8" stroke-width="2.0" stroke-linejoin="round" stroke-linecap="round"/>
<rect x="41.8" y="523.8" width="191" height="113.3" fill="none" stroke="#4a4a4a" stroke-width="1.0"/>
<line x1="38.0" x2="41.8" y1="528.60" y2="528.60" stroke="#333" stroke-width="1.05"/>
<text x="35.8" y="532.90" font-size="10.9" text-anchor="end" fill="#4d4d4d">2</text>
<line x1="38.0" x2="41.8" y1="554.50" y2="554.50" stroke="#333" stroke-width="1.05"/>
<text x="35.8" y="558.80" font-size="10.9" text-anchor="end" fill="#4d4d4d">1</text>
<line x1="38.0" x2="41.8" y1="580.40" y2="580.40" stroke="#333" stroke-width="1.05"/>
<text x="35.8" y="584.70" font-size="10.9" text-anchor="end" fill="#4d4d4d">0</text>
<line x1="38.0" x2="41.8" y1="606.30" y2="606.30" stroke="#333" stroke-width="1.05"/>
<text x="35.8" y="610.60" font-size="10.9" text-anchor="end" fill="#4d4d4d">-1</text>
<line x1="38.0" x2="41.8" y1="632.20" y2="632.20" stroke="#333" stroke-width="1.05"/>
<text x="35.8" y="636.50" font-size="10.9" text-anchor="end" fill="#4d4d4d">-2</text>
<text x="245.8" y="517.0" font-size="10.7" fill="#1a1a1a">Canada</text>
<rect x="240.5" y="523.8" width="191" height="113.3" fill="#fff"/>
<line x1="240.5" x2="431.5" y1="541.55" y2="541.55" stroke="#ededed" stroke-width="0.9"/>
<line x1="240.5" x2="431.5" y1="567.45" y2="567.45" stroke="#ededed" stroke-width="0.9"/>
<line x1="240.5" x2="431.5" y1="593.35" y2="593.35" stroke="#ededed" stroke-width="0.9"/>
<line x1="240.5" x2="431.5" y1="619.25" y2="619.25" stroke="#ededed" stroke-width="0.9"/>
<line x1="241.01" x2="241.01" y1="523.8" y2="637.0999999999999" stroke="#ededed" stroke-width="0.9"/>
<line x1="256.34" x2="256.34" y1="523.8" y2="637.0999999999999" stroke="#ededed" stroke-width="0.9"/>
<line x1="271.67" x2="271.67" y1="523.8" y2="637.0999999999999" stroke="#ededed" stroke-width="0.9"/>
<line x1="287.01" x2="287.01" y1="523.8" y2="637.0999999999999" stroke="#ededed" stroke-width="0.9"/>
<line x1="302.34" x2="302.34" y1="523.8" y2="637.0999999999999" stroke="#ededed" stroke-width="0.9"/>
<line x1="317.92" x2="317.92" y1="523.8" y2="637.0999999999999" stroke="#ededed" stroke-width="0.9"/>
<line x1="333.25" x2="333.25" y1="523.8" y2="637.0999999999999" stroke="#ededed" stroke-width="0.9"/>
<line x1="348.59" x2="348.59" y1="523.8" y2="637.0999999999999" stroke="#ededed" stroke-width="0.9"/>
<line x1="363.92" x2="363.92" y1="523.8" y2="637.0999999999999" stroke="#ededed" stroke-width="0.9"/>
<line x1="379.25" x2="379.25" y1="523.8" y2="637.0999999999999" stroke="#ededed" stroke-width="0.9"/>
<line x1="394.83" x2="394.83" y1="523.8" y2="637.0999999999999" stroke="#ededed" stroke-width="0.9"/>
<line x1="409.66" x2="409.66" y1="523.8" y2="637.0999999999999" stroke="#ededed" stroke-width="0.9"/>
<line x1="424.49" x2="424.49" y1="523.8" y2="637.0999999999999" stroke="#ededed" stroke-width="0.9"/>
<line x1="240.5" x2="431.5" y1="528.60" y2="528.60" stroke="#e8e8e8" stroke-width="1"/>
<line x1="240.5" x2="431.5" y1="554.50" y2="554.50" stroke="#e8e8e8" stroke-width="1"/>
<line x1="240.5" x2="431.5" y1="580.40" y2="580.40" stroke="#e8e8e8" stroke-width="1"/>
<line x1="240.5" x2="431.5" y1="606.30" y2="606.30" stroke="#e8e8e8" stroke-width="1"/>
<line x1="240.5" x2="431.5" y1="632.20" y2="632.20" stroke="#e8e8e8" stroke-width="1"/>
<line x1="248.80" x2="248.80" y1="523.8" y2="637.0999999999999" stroke="#e8e8e8" stroke-width="1"/>
<line x1="263.88" x2="263.88" y1="523.8" y2="637.0999999999999" stroke="#e8e8e8" stroke-width="1"/>
<line x1="279.46" x2="279.46" y1="523.8" y2="637.0999999999999" stroke="#e8e8e8" stroke-width="1"/>
<line x1="294.55" x2="294.55" y1="523.8" y2="637.0999999999999" stroke="#e8e8e8" stroke-width="1"/>
<line x1="310.13" x2="310.13" y1="523.8" y2="637.0999999999999" stroke="#e8e8e8" stroke-width="1"/>
<line x1="325.71" x2="325.71" y1="523.8" y2="637.0999999999999" stroke="#e8e8e8" stroke-width="1"/>
<line x1="340.79" x2="340.79" y1="523.8" y2="637.0999999999999" stroke="#e8e8e8" stroke-width="1"/>
<line x1="356.38" x2="356.38" y1="523.8" y2="637.0999999999999" stroke="#e8e8e8" stroke-width="1"/>
<line x1="371.46" x2="371.46" y1="523.8" y2="637.0999999999999" stroke="#e8e8e8" stroke-width="1"/>
<line x1="387.04" x2="387.04" y1="523.8" y2="637.0999999999999" stroke="#e8e8e8" stroke-width="1"/>
<line x1="402.63" x2="402.63" y1="523.8" y2="637.0999999999999" stroke="#e8e8e8" stroke-width="1"/>
<line x1="416.70" x2="416.70" y1="523.8" y2="637.0999999999999" stroke="#e8e8e8" stroke-width="1"/>
<path d="M248.50,632.20V551.62H289.60V632.20ZM289.60,632.20V563.13H364.50V632.20ZM364.50,632.20V551.62H424.20V632.20Z" fill="#d4d4d4" fill-opacity="0.75"/>
<line x1="240.5" x2="431.5" y1="580.40" y2="580.40" stroke="#1a1a1a" stroke-width="1" stroke-dasharray="4,3"/>
<path d="M248.32,586.57 C248.50,586.19 249.00,585.05 249.38,584.30 C249.76,583.54 250.01,582.15 250.59,582.03 C251.17,581.90 252.10,583.09 252.86,583.54 C253.62,583.99 254.37,584.95 255.13,584.75 C255.89,584.55 256.64,582.33 257.40,582.33 C258.15,582.33 258.78,584.55 259.67,584.75 C260.55,584.95 261.81,584.20 262.69,583.54 C263.58,582.88 264.21,581.52 264.96,580.82 C265.72,580.11 266.48,579.35 267.23,579.30 C267.99,579.25 268.74,579.98 269.50,580.51 C270.26,581.04 271.01,582.15 271.77,582.48 C272.53,582.81 273.16,582.61 274.04,582.48 C274.92,582.36 276.18,582.10 277.07,581.72 C277.95,581.35 278.58,580.79 279.33,580.21 C280.09,579.63 280.85,578.50 281.60,578.25 C282.36,577.99 283.12,578.52 283.87,578.70 C284.63,578.88 285.39,579.20 286.14,579.30 C286.90,579.40 287.66,579.48 288.41,579.30 C289.17,579.13 289.92,578.75 290.68,578.25 C291.44,577.74 292.27,576.78 292.95,576.28 C293.63,575.77 294.14,575.07 294.77,575.22 C295.40,575.37 296.40,576.86 296.73,577.19" fill="none" stroke="#1d55d6" stroke-width="2.0" stroke-linejoin="round" stroke-linecap="round"/>
<path d="M248.32,585.05 C248.57,584.42 249.33,582.41 249.83,581.27 C250.34,580.14 250.84,577.87 251.35,578.25 C251.85,578.62 252.23,582.41 252.86,583.54 C253.49,584.67 254.37,585.31 255.13,585.05 C255.89,584.80 256.64,582.03 257.40,582.03 C258.15,582.03 258.78,584.80 259.67,585.05 C260.55,585.31 261.81,584.30 262.69,583.54 C263.58,582.78 264.21,581.27 264.96,580.51 C265.72,579.76 266.48,579.00 267.23,579.00 C267.99,579.00 268.74,579.88 269.50,580.51 C270.26,581.14 271.01,582.41 271.77,582.78 C272.53,583.16 273.16,582.91 274.04,582.78 C274.92,582.66 276.18,582.41 277.07,582.03 C277.95,581.65 278.58,581.22 279.33,580.51 C280.09,579.81 280.85,578.17 281.60,577.79 C282.36,577.41 283.12,578.04 283.87,578.25 C284.63,578.45 285.39,578.75 286.14,579.00 C286.90,579.25 287.66,580.01 288.41,579.76 C289.17,579.51 289.92,578.25 290.68,577.49 C291.44,576.73 292.27,575.72 292.95,575.22 C293.63,574.72 294.14,574.21 294.77,574.46 C295.40,574.72 296.03,575.72 296.73,576.73 C297.44,577.74 298.25,578.88 299.00,580.51 C299.76,582.15 300.64,585.18 301.27,586.57 C301.90,587.95 302.28,589.21 302.78,588.84 C303.29,588.46 303.67,586.06 304.30,584.30 C304.93,582.53 305.81,579.00 306.57,578.25 C307.32,577.49 308.08,579.88 308.84,579.76 C309.59,579.63 310.35,578.12 311.10,577.49 C311.86,576.86 312.62,575.85 313.37,575.98 C314.13,576.10 314.89,577.87 315.64,578.25 C316.40,578.62 317.16,577.74 317.91,578.25 C318.67,578.75 319.43,581.27 320.18,581.27 C320.94,581.27 321.69,578.88 322.45,578.25 C323.21,577.61 323.96,577.49 324.72,577.49 C325.48,577.49 326.23,577.87 326.99,578.25 C327.75,578.62 328.50,579.38 329.26,579.76 C330.02,580.14 331.15,580.39 331.53,580.51" fill="none" stroke="#8096c8" stroke-width="2.0" stroke-linejoin="round" stroke-linecap="round"/>
<path d="M334.27,581.27 C334.65,581.65 335.91,582.53 336.54,583.54 C337.17,584.55 337.55,587.20 338.05,587.32 C338.56,587.45 339.06,585.05 339.56,584.30 C340.07,583.54 340.57,583.54 341.08,582.78 C341.58,582.03 341.96,580.14 342.59,579.76 C343.22,579.38 344.10,580.64 344.86,580.51 C345.62,580.39 346.37,579.13 347.13,579.00 C347.89,578.88 348.64,580.14 349.40,579.76 C350.15,579.38 350.91,576.98 351.67,576.73 C352.42,576.48 353.18,577.24 353.94,578.25 C354.69,579.25 355.45,581.90 356.21,582.78 C356.96,583.67 357.72,583.79 358.48,583.54 C359.23,583.29 359.99,581.90 360.74,581.27 C361.50,580.64 362.26,579.88 363.01,579.76 C363.77,579.63 364.40,580.14 365.28,580.51 C366.17,580.89 367.30,581.90 368.31,582.03 C369.32,582.15 370.45,581.14 371.33,581.27 C372.22,581.40 372.85,582.28 373.60,582.78 C374.36,583.29 375.24,584.67 375.87,584.30 C376.50,583.92 376.88,581.90 377.39,580.51 C377.89,579.13 378.44,577.11 378.90,575.98 C379.35,574.84 379.66,573.83 380.11,573.71 C380.56,573.58 381.19,574.21 381.62,575.22 C382.05,576.23 382.25,578.37 382.68,579.76 C383.11,581.14 383.56,582.41 384.19,583.54 C384.82,584.67 385.71,586.31 386.46,586.57 C387.22,586.82 387.98,585.81 388.73,585.05 C389.49,584.30 390.25,582.66 391.00,582.03 C391.76,581.40 392.51,581.52 393.27,581.27 C394.03,581.02 394.66,580.51 395.54,580.51 C396.42,580.51 397.68,581.40 398.57,581.27 C399.45,581.14 400.08,580.26 400.84,579.76 C401.59,579.25 402.35,578.62 403.10,578.25 C403.86,577.87 404.62,577.36 405.37,577.49 C406.13,577.61 406.89,578.50 407.64,579.00 C408.40,579.51 409.16,580.39 409.91,580.51 C410.67,580.64 411.43,580.01 412.18,579.76 C412.94,579.51 413.69,579.25 414.45,579.00 C415.21,578.75 415.96,578.37 416.72,578.25 C417.48,578.12 418.23,578.37 418.99,578.25 C419.75,578.12 420.50,577.74 421.26,577.49 C422.02,577.24 423.15,576.86 423.53,576.73" fill="none" stroke="#8096c8" stroke-width="2.0" stroke-linejoin="round" stroke-linecap="round"/>
<rect x="240.5" y="523.8" width="191" height="113.3" fill="none" stroke="#4a4a4a" stroke-width="1.0"/>
<text x="444.8" y="517.0" font-size="10.7" fill="#1a1a1a">Germany</text>
<rect x="439.5" y="523.8" width="191" height="113.3" fill="#fff"/>
<line x1="439.5" x2="630.5" y1="541.55" y2="541.55" stroke="#ededed" stroke-width="0.9"/>
<line x1="439.5" x2="630.5" y1="567.45" y2="567.45" stroke="#ededed" stroke-width="0.9"/>
<line x1="439.5" x2="630.5" y1="593.35" y2="593.35" stroke="#ededed" stroke-width="0.9"/>
<line x1="439.5" x2="630.5" y1="619.25" y2="619.25" stroke="#ededed" stroke-width="0.9"/>
<line x1="454.74" x2="454.74" y1="523.8" y2="637.0999999999999" stroke="#ededed" stroke-width="0.9"/>
<line x1="470.07" x2="470.07" y1="523.8" y2="637.0999999999999" stroke="#ededed" stroke-width="0.9"/>
<line x1="485.41" x2="485.41" y1="523.8" y2="637.0999999999999" stroke="#ededed" stroke-width="0.9"/>
<line x1="500.74" x2="500.74" y1="523.8" y2="637.0999999999999" stroke="#ededed" stroke-width="0.9"/>
<line x1="516.32" x2="516.32" y1="523.8" y2="637.0999999999999" stroke="#ededed" stroke-width="0.9"/>
<line x1="531.65" x2="531.65" y1="523.8" y2="637.0999999999999" stroke="#ededed" stroke-width="0.9"/>
<line x1="546.99" x2="546.99" y1="523.8" y2="637.0999999999999" stroke="#ededed" stroke-width="0.9"/>
<line x1="562.32" x2="562.32" y1="523.8" y2="637.0999999999999" stroke="#ededed" stroke-width="0.9"/>
<line x1="577.65" x2="577.65" y1="523.8" y2="637.0999999999999" stroke="#ededed" stroke-width="0.9"/>
<line x1="593.23" x2="593.23" y1="523.8" y2="637.0999999999999" stroke="#ededed" stroke-width="0.9"/>
<line x1="608.06" x2="608.06" y1="523.8" y2="637.0999999999999" stroke="#ededed" stroke-width="0.9"/>
<line x1="622.89" x2="622.89" y1="523.8" y2="637.0999999999999" stroke="#ededed" stroke-width="0.9"/>
<line x1="439.5" x2="630.5" y1="528.60" y2="528.60" stroke="#e8e8e8" stroke-width="1"/>
<line x1="439.5" x2="630.5" y1="554.50" y2="554.50" stroke="#e8e8e8" stroke-width="1"/>
<line x1="439.5" x2="630.5" y1="580.40" y2="580.40" stroke="#e8e8e8" stroke-width="1"/>
<line x1="439.5" x2="630.5" y1="606.30" y2="606.30" stroke="#e8e8e8" stroke-width="1"/>
<line x1="439.5" x2="630.5" y1="632.20" y2="632.20" stroke="#e8e8e8" stroke-width="1"/>
<line x1="447.20" x2="447.20" y1="523.8" y2="637.0999999999999" stroke="#e8e8e8" stroke-width="1"/>
<line x1="462.28" x2="462.28" y1="523.8" y2="637.0999999999999" stroke="#e8e8e8" stroke-width="1"/>
<line x1="477.86" x2="477.86" y1="523.8" y2="637.0999999999999" stroke="#e8e8e8" stroke-width="1"/>
<line x1="492.95" x2="492.95" y1="523.8" y2="637.0999999999999" stroke="#e8e8e8" stroke-width="1"/>
<line x1="508.53" x2="508.53" y1="523.8" y2="637.0999999999999" stroke="#e8e8e8" stroke-width="1"/>
<line x1="524.11" x2="524.11" y1="523.8" y2="637.0999999999999" stroke="#e8e8e8" stroke-width="1"/>
<line x1="539.19" x2="539.19" y1="523.8" y2="637.0999999999999" stroke="#e8e8e8" stroke-width="1"/>
<line x1="554.78" x2="554.78" y1="523.8" y2="637.0999999999999" stroke="#e8e8e8" stroke-width="1"/>
<line x1="569.86" x2="569.86" y1="523.8" y2="637.0999999999999" stroke="#e8e8e8" stroke-width="1"/>
<line x1="585.44" x2="585.44" y1="523.8" y2="637.0999999999999" stroke="#e8e8e8" stroke-width="1"/>
<line x1="601.03" x2="601.03" y1="523.8" y2="637.0999999999999" stroke="#e8e8e8" stroke-width="1"/>
<line x1="615.10" x2="615.10" y1="523.8" y2="637.0999999999999" stroke="#e8e8e8" stroke-width="1"/>
<path d="M447.30,632.20V551.62H464.40V632.20ZM464.40,632.20V563.13H471.10V632.20ZM471.10,632.20V574.64H487.10V632.20ZM487.10,632.20V563.13H495.70V632.20ZM495.70,632.20V574.64H525.20V632.20ZM525.20,632.20V586.16H546.90V632.20ZM546.90,632.20V574.64H549.90V632.20ZM549.90,632.20V563.13H577.10V632.20ZM577.10,632.20V540.11H615.00V632.20ZM615.00,632.20V551.62H622.90V632.20Z" fill="#d4d4d4" fill-opacity="0.75"/>
<line x1="439.5" x2="630.5" y1="580.40" y2="580.40" stroke="#1a1a1a" stroke-width="1" stroke-dasharray="4,3"/>
<path d="M546.13,593.37 C546.51,593.20 547.64,592.89 548.40,592.31 C549.15,591.73 549.91,590.85 550.67,589.89 C551.42,588.94 552.18,587.62 552.94,586.57 C553.69,585.51 554.45,584.42 555.21,583.54 C555.96,582.66 556.72,581.78 557.48,581.27 C558.23,580.77 558.99,580.77 559.74,580.51 C560.50,580.26 561.26,580.14 562.01,579.76 C562.77,579.38 563.53,578.75 564.28,578.25 C565.04,577.74 565.80,576.73 566.55,576.73 C567.31,576.73 568.07,577.61 568.82,578.25 C569.58,578.88 570.46,579.38 571.09,580.51 C571.72,581.65 572.10,583.54 572.60,585.05 C573.11,586.57 573.61,588.96 574.12,589.59 C574.62,590.22 575.00,590.10 575.63,588.84 C576.26,587.57 577.27,584.42 577.90,582.03 C578.53,579.63 578.91,576.61 579.41,574.46 C579.92,572.32 580.42,568.79 580.92,569.17 C581.43,569.55 581.93,574.08 582.44,576.73 C582.94,579.38 583.45,583.11 583.95,585.05 C584.45,586.99 584.96,588.00 585.46,588.38 C585.97,588.76 586.47,588.13 586.98,587.32 C587.48,586.52 587.86,585.05 588.49,583.54 C589.12,582.03 590.13,579.13 590.76,578.25 C591.39,577.36 591.64,577.74 592.27,578.25 C592.90,578.75 593.78,580.64 594.54,581.27 C595.30,581.90 596.05,582.15 596.81,582.03 C597.57,581.90 598.32,581.14 599.08,580.51 C599.84,579.88 600.59,578.80 601.35,578.25 C602.10,577.69 602.86,577.19 603.62,577.19 C604.37,577.19 605.13,577.69 605.89,578.25 C606.64,578.80 607.40,579.88 608.16,580.51 C608.91,581.14 609.67,582.28 610.43,582.03 C611.18,581.78 612.01,580.39 612.69,579.00 C613.38,577.61 613.96,574.34 614.51,573.71 C615.06,573.08 615.44,574.21 616.02,575.22 C616.60,576.23 617.28,578.37 617.99,579.76 C618.70,581.14 619.68,582.78 620.26,583.54 C620.84,584.30 621.27,584.17 621.47,584.30" fill="none" stroke="#1d55d6" stroke-width="2.0" stroke-linejoin="round" stroke-linecap="round"/>
<path d="M447.32,585.05 C447.57,584.55 448.20,582.78 448.83,582.03 C449.46,581.27 450.35,580.64 451.10,580.51 C451.86,580.39 452.62,581.14 453.37,581.27 C454.13,581.40 454.89,581.52 455.64,581.27 C456.40,581.02 457.28,580.44 457.91,579.76 C458.54,579.08 458.79,577.06 459.42,577.19 C460.05,577.31 460.94,580.46 461.69,580.51 C462.45,580.56 463.21,577.49 463.96,577.49 C464.72,577.49 465.60,579.76 466.23,580.51 C466.86,581.27 467.24,582.15 467.74,582.03 C468.25,581.90 468.63,579.51 469.26,579.76 C469.89,580.01 470.90,584.04 471.53,583.54 C472.16,583.04 472.54,577.99 473.04,576.73 C473.54,575.47 474.05,575.09 474.55,575.98 C475.06,576.86 475.56,583.04 476.07,582.03 C476.57,581.02 477.15,572.82 477.58,569.92 C478.01,567.02 478.21,565.39 478.64,564.63 C479.07,563.87 479.65,563.24 480.15,565.39 C480.65,567.53 481.16,573.96 481.66,577.49 C482.17,581.02 482.72,584.30 483.18,586.57 C483.63,588.84 483.93,590.85 484.39,591.10 C484.84,591.36 485.39,589.34 485.90,588.08 C486.40,586.82 486.78,584.55 487.41,583.54 C488.04,582.53 489.05,582.41 489.68,582.03 C490.31,581.65 490.69,582.28 491.19,581.27 C491.70,580.26 492.20,577.36 492.71,575.98 C493.21,574.59 493.59,573.20 494.22,572.95 C494.85,572.70 495.73,573.45 496.49,574.46 C497.25,575.47 498.00,577.74 498.76,579.00 C499.51,580.26 500.27,581.78 501.03,582.03 C501.78,582.28 502.41,580.77 503.30,580.51 C504.18,580.26 505.44,580.51 506.32,580.51 C507.20,580.51 507.84,580.26 508.59,580.51 C509.35,580.77 510.10,581.40 510.86,582.03 C511.62,582.66 512.37,583.79 513.13,584.30 C513.89,584.80 514.64,585.18 515.40,585.05 C516.16,584.93 516.91,584.42 517.67,583.54 C518.43,582.66 519.18,580.64 519.94,579.76 C520.69,578.88 521.45,578.75 522.21,578.25 C522.96,577.74 523.72,576.48 524.48,576.73 C525.23,576.98 525.99,578.88 526.75,579.76 C527.50,580.64 528.26,581.90 529.02,582.03 C529.77,582.15 530.53,581.65 531.28,580.51 C532.04,579.38 532.80,576.48 533.55,575.22 C534.31,573.96 535.44,573.33 535.82,572.95" fill="none" stroke="#8096c8" stroke-width="2.0" stroke-linejoin="round" stroke-linecap="round"/>
<path d="M535.54,572.95 C535.92,573.08 537.18,572.82 537.81,573.71 C538.44,574.59 538.82,576.86 539.32,578.25 C539.83,579.63 540.33,581.14 540.83,582.03 C541.34,582.91 541.84,583.92 542.35,583.54 C542.85,583.16 543.36,580.64 543.86,579.76 C544.36,578.88 544.87,578.12 545.37,578.25 C545.88,578.37 546.38,579.63 546.89,580.51 C547.39,581.40 547.89,582.53 548.40,583.54 C548.90,584.55 549.41,585.81 549.91,586.57 C550.42,587.32 550.92,588.20 551.42,588.08 C551.93,587.95 552.31,586.69 552.94,585.81 C553.57,584.93 554.45,583.54 555.21,582.78 C555.96,582.03 556.72,581.65 557.48,581.27 C558.23,580.89 558.99,580.77 559.74,580.51 C560.50,580.26 561.26,580.14 562.01,579.76 C562.77,579.38 563.53,578.88 564.28,578.25 C565.04,577.61 565.80,575.85 566.55,575.98 C567.31,576.10 568.07,578.25 568.82,579.00 C569.58,579.76 570.33,579.76 571.09,580.51 C571.85,581.27 572.73,582.53 573.36,583.54 C573.99,584.55 574.37,586.31 574.87,586.57 C575.38,586.82 575.88,585.81 576.39,585.05 C576.89,584.30 577.39,583.79 577.90,582.03 C578.40,580.26 578.91,576.35 579.41,574.46 C579.92,572.57 580.42,570.18 580.92,570.68 C581.43,571.19 581.93,575.09 582.44,577.49 C582.94,579.88 583.45,583.41 583.95,585.05 C584.45,586.69 584.96,587.07 585.46,587.32 C585.97,587.57 586.47,587.20 586.98,586.57 C587.48,585.94 587.86,584.80 588.49,583.54 C589.12,582.28 590.13,579.88 590.76,579.00 C591.39,578.12 591.64,577.87 592.27,578.25 C592.90,578.62 593.78,580.64 594.54,581.27 C595.30,581.90 596.05,582.15 596.81,582.03 C597.57,581.90 598.32,581.14 599.08,580.51 C599.84,579.88 600.59,578.75 601.35,578.25 C602.10,577.74 602.86,577.36 603.62,577.49 C604.37,577.61 605.13,578.50 605.89,579.00 C606.64,579.51 607.40,580.14 608.16,580.51 C608.91,580.89 609.67,581.40 610.43,581.27 C611.18,581.14 612.01,580.89 612.69,579.76 C613.38,578.62 613.96,575.09 614.51,574.46 C615.06,573.83 615.44,574.97 616.02,575.98 C616.60,576.98 617.28,579.51 617.99,580.51 C618.70,581.52 619.63,581.90 620.26,582.03 C620.89,582.15 621.52,581.40 621.77,581.27" fill="none" stroke="#8096c8" stroke-width="2.0" stroke-linejoin="round" stroke-linecap="round"/>
<rect x="439.5" y="523.8" width="191" height="113.3" fill="none" stroke="#4a4a4a" stroke-width="1.0"/>
<line x1="630.5" x2="634.3" y1="632.20" y2="632.20" stroke="#333" stroke-width="1.05"/>
<text x="636.9" y="636.40" font-size="10.5" fill="#4d4d4d">0</text>
<line x1="630.5" x2="634.3" y1="620.69" y2="620.69" stroke="#333" stroke-width="1.05"/>
<text x="636.9" y="624.89" font-size="10.5" fill="#4d4d4d">1</text>
<line x1="630.5" x2="634.3" y1="609.18" y2="609.18" stroke="#333" stroke-width="1.05"/>
<text x="636.9" y="613.38" font-size="10.5" fill="#4d4d4d">2</text>
<line x1="630.5" x2="634.3" y1="597.67" y2="597.67" stroke="#333" stroke-width="1.05"/>
<text x="636.9" y="601.87" font-size="10.5" fill="#4d4d4d">3</text>
<line x1="630.5" x2="634.3" y1="586.16" y2="586.16" stroke="#333" stroke-width="1.05"/>
<text x="636.9" y="590.36" font-size="10.5" fill="#4d4d4d">4</text>
<line x1="630.5" x2="634.3" y1="574.64" y2="574.64" stroke="#333" stroke-width="1.05"/>
<text x="636.9" y="578.85" font-size="10.5" fill="#4d4d4d">5</text>
<line x1="630.5" x2="634.3" y1="563.13" y2="563.13" stroke="#333" stroke-width="1.05"/>
<text x="636.9" y="567.33" font-size="10.5" fill="#4d4d4d">6</text>
<line x1="630.5" x2="634.3" y1="551.62" y2="551.62" stroke="#333" stroke-width="1.05"/>
<text x="636.9" y="555.82" font-size="10.5" fill="#4d4d4d">7</text>
<line x1="630.5" x2="634.3" y1="540.11" y2="540.11" stroke="#333" stroke-width="1.05"/>
<text x="636.9" y="544.31" font-size="10.5" fill="#4d4d4d">8</text>
<line x1="630.5" x2="634.3" y1="528.60" y2="528.60" stroke="#333" stroke-width="1.05"/>
<text x="636.9" y="532.80" font-size="10.5" fill="#4d4d4d">9</text>
<text x="47.1" y="659.7" font-size="10.7" fill="#1a1a1a">India</text>
<rect x="41.8" y="666.5" width="191" height="113.3" fill="#fff"/>
<line x1="41.8" x2="232.8" y1="684.25" y2="684.25" stroke="#ededed" stroke-width="0.9"/>
<line x1="41.8" x2="232.8" y1="710.15" y2="710.15" stroke="#ededed" stroke-width="0.9"/>
<line x1="41.8" x2="232.8" y1="736.05" y2="736.05" stroke="#ededed" stroke-width="0.9"/>
<line x1="41.8" x2="232.8" y1="761.95" y2="761.95" stroke="#ededed" stroke-width="0.9"/>
<line x1="42.51" x2="42.51" y1="666.5" y2="779.8" stroke="#ededed" stroke-width="0.9"/>
<line x1="57.84" x2="57.84" y1="666.5" y2="779.8" stroke="#ededed" stroke-width="0.9"/>
<line x1="73.17" x2="73.17" y1="666.5" y2="779.8" stroke="#ededed" stroke-width="0.9"/>
<line x1="88.51" x2="88.51" y1="666.5" y2="779.8" stroke="#ededed" stroke-width="0.9"/>
<line x1="103.84" x2="103.84" y1="666.5" y2="779.8" stroke="#ededed" stroke-width="0.9"/>
<line x1="119.42" x2="119.42" y1="666.5" y2="779.8" stroke="#ededed" stroke-width="0.9"/>
<line x1="134.75" x2="134.75" y1="666.5" y2="779.8" stroke="#ededed" stroke-width="0.9"/>
<line x1="150.09" x2="150.09" y1="666.5" y2="779.8" stroke="#ededed" stroke-width="0.9"/>
<line x1="165.42" x2="165.42" y1="666.5" y2="779.8" stroke="#ededed" stroke-width="0.9"/>
<line x1="180.75" x2="180.75" y1="666.5" y2="779.8" stroke="#ededed" stroke-width="0.9"/>
<line x1="196.33" x2="196.33" y1="666.5" y2="779.8" stroke="#ededed" stroke-width="0.9"/>
<line x1="211.16" x2="211.16" y1="666.5" y2="779.8" stroke="#ededed" stroke-width="0.9"/>
<line x1="225.99" x2="225.99" y1="666.5" y2="779.8" stroke="#ededed" stroke-width="0.9"/>
<line x1="41.8" x2="232.8" y1="671.30" y2="671.30" stroke="#e8e8e8" stroke-width="1"/>
<line x1="41.8" x2="232.8" y1="697.20" y2="697.20" stroke="#e8e8e8" stroke-width="1"/>
<line x1="41.8" x2="232.8" y1="723.10" y2="723.10" stroke="#e8e8e8" stroke-width="1"/>
<line x1="41.8" x2="232.8" y1="749.00" y2="749.00" stroke="#e8e8e8" stroke-width="1"/>
<line x1="41.8" x2="232.8" y1="774.90" y2="774.90" stroke="#e8e8e8" stroke-width="1"/>
<line x1="50.30" x2="50.30" y1="666.5" y2="779.8" stroke="#e8e8e8" stroke-width="1"/>
<line x1="65.38" x2="65.38" y1="666.5" y2="779.8" stroke="#e8e8e8" stroke-width="1"/>
<line x1="80.96" x2="80.96" y1="666.5" y2="779.8" stroke="#e8e8e8" stroke-width="1"/>
<line x1="96.05" x2="96.05" y1="666.5" y2="779.8" stroke="#e8e8e8" stroke-width="1"/>
<line x1="111.63" x2="111.63" y1="666.5" y2="779.8" stroke="#e8e8e8" stroke-width="1"/>
<line x1="127.21" x2="127.21" y1="666.5" y2="779.8" stroke="#e8e8e8" stroke-width="1"/>
<line x1="142.29" x2="142.29" y1="666.5" y2="779.8" stroke="#e8e8e8" stroke-width="1"/>
<line x1="157.88" x2="157.88" y1="666.5" y2="779.8" stroke="#e8e8e8" stroke-width="1"/>
<line x1="172.96" x2="172.96" y1="666.5" y2="779.8" stroke="#e8e8e8" stroke-width="1"/>
<line x1="188.54" x2="188.54" y1="666.5" y2="779.8" stroke="#e8e8e8" stroke-width="1"/>
<line x1="204.13" x2="204.13" y1="666.5" y2="779.8" stroke="#e8e8e8" stroke-width="1"/>
<line x1="218.20" x2="218.20" y1="666.5" y2="779.8" stroke="#e8e8e8" stroke-width="1"/>
<path d="M49.80,774.90V671.30H66.00V774.90ZM66.00,774.90V682.81H141.80V774.90ZM141.80,774.90V694.32H148.90V774.90ZM148.90,774.90V705.83H221.50V774.90ZM221.50,774.90V717.35H225.30V774.90Z" fill="#d4d4d4" fill-opacity="0.75"/>
<line x1="41.8" x2="232.8" y1="723.10" y2="723.10" stroke="#1a1a1a" stroke-width="1" stroke-dasharray="4,3"/>
<path d="M81.85,732.59 C82.10,732.21 82.86,731.08 83.36,730.32 C83.86,729.57 84.24,728.73 84.87,728.05 C85.50,727.37 86.39,726.74 87.14,726.24 C87.90,725.73 88.53,725.48 89.41,725.03 C90.29,724.57 91.43,723.89 92.44,723.51 C93.45,723.14 94.45,722.96 95.46,722.76 C96.47,722.56 97.73,722.43 98.49,722.30 C99.25,722.18 99.75,722.05 100.00,722.00" fill="none" stroke="#1d55d6" stroke-width="2.0" stroke-linejoin="round" stroke-linecap="round"/>
<path d="M49.77,738.64 C49.95,737.89 50.40,735.62 50.83,734.10 C51.26,732.59 51.84,730.70 52.35,729.57 C52.85,728.43 53.36,727.55 53.86,727.30 C54.36,727.04 54.87,728.56 55.37,728.05 C55.88,727.55 56.38,725.91 56.89,724.27 C57.39,722.63 57.89,719.35 58.40,718.22 C58.90,717.08 59.41,716.71 59.91,717.46 C60.42,718.22 60.92,720.99 61.42,722.76 C61.93,724.52 62.43,727.04 62.94,728.05 C63.44,729.06 63.95,729.31 64.45,728.81 C64.95,728.31 65.46,726.29 65.96,725.03 C66.47,723.77 66.97,721.75 67.48,721.25 C67.98,720.74 68.48,721.50 68.99,722.00 C69.49,722.51 69.87,723.77 70.50,724.27 C71.13,724.78 72.01,725.03 72.77,725.03 C73.53,725.03 74.28,724.27 75.04,724.27 C75.80,724.27 76.55,724.90 77.31,725.03 C78.07,725.15 78.82,725.41 79.58,725.03 C80.33,724.65 81.09,723.39 81.85,722.76 C82.60,722.13 83.36,721.37 84.12,721.25 C84.87,721.12 85.63,721.62 86.39,722.00 C87.14,722.38 87.90,723.14 88.66,723.51 C89.41,723.89 90.17,724.27 90.92,724.27 C91.68,724.27 92.44,723.77 93.19,723.51 C93.95,723.26 94.71,723.01 95.46,722.76 C96.22,722.51 96.98,722.13 97.73,722.00 C98.49,721.88 99.25,721.62 100.00,722.00 C100.76,722.38 101.51,723.64 102.27,724.27 C103.03,724.90 103.78,725.66 104.54,725.78 C105.30,725.91 106.05,725.28 106.81,725.03 C107.57,724.78 108.32,724.27 109.08,724.27 C109.84,724.27 110.59,724.95 111.35,725.03 C112.10,725.10 112.86,725.10 113.62,724.72 C114.37,724.35 115.13,723.26 115.89,722.76 C116.64,722.25 117.40,721.77 118.16,721.70 C118.91,721.62 119.67,722.13 120.43,722.30 C121.18,722.48 121.94,722.56 122.69,722.76 C123.45,722.96 124.21,723.14 124.96,723.51 C125.72,723.89 126.48,724.65 127.23,725.03 C127.99,725.41 128.75,725.78 129.50,725.78 C130.26,725.78 131.02,725.28 131.77,725.03 C132.53,724.78 133.28,724.40 134.04,724.27 C134.80,724.14 135.55,724.40 136.31,724.27 C137.07,724.14 138.20,723.64 138.58,723.51" fill="none" stroke="#8096c8" stroke-width="2.0" stroke-linejoin="round" stroke-linecap="round"/>
<path d="M136.03,724.27 C136.53,724.14 138.04,723.51 139.05,723.51 C140.06,723.51 141.07,724.14 142.08,724.27 C143.09,724.40 144.09,724.52 145.10,724.27 C146.11,724.02 147.12,723.39 148.13,722.76 C149.14,722.13 150.27,720.74 151.15,720.49 C152.04,720.24 152.67,720.61 153.42,721.25 C154.18,721.88 155.06,723.51 155.69,724.27 C156.32,725.03 156.70,726.04 157.21,725.78 C157.71,725.53 158.16,723.77 158.72,722.76 C159.27,721.75 159.90,719.86 160.53,719.73 C161.16,719.61 161.92,721.12 162.50,722.00 C163.08,722.88 163.38,724.27 164.01,725.03 C164.64,725.78 165.53,726.54 166.28,726.54 C167.04,726.54 167.80,725.41 168.55,725.03 C169.31,724.65 170.07,724.52 170.82,724.27 C171.58,724.02 172.33,723.89 173.09,723.51 C173.85,723.14 174.60,722.25 175.36,722.00 C176.12,721.75 177.00,721.25 177.63,722.00 C178.26,722.76 178.64,726.41 179.14,726.54 C179.65,726.67 180.15,723.77 180.66,722.76 C181.16,721.75 181.74,721.17 182.17,720.49 C182.60,719.81 182.80,718.55 183.23,718.67 C183.66,718.80 184.16,720.56 184.74,721.25 C185.32,721.93 186.13,722.13 186.71,722.76 C187.29,723.39 187.59,725.03 188.22,725.03 C188.85,725.03 189.73,723.39 190.49,722.76 C191.25,722.13 192.00,721.37 192.76,721.25 C193.51,721.12 194.27,721.62 195.03,722.00 C195.78,722.38 196.54,723.51 197.30,723.51 C198.05,723.51 198.81,722.38 199.57,722.00 C200.32,721.62 201.08,721.55 201.84,721.25 C202.59,720.94 203.35,720.44 204.10,720.19 C204.86,719.93 205.62,719.56 206.37,719.73 C207.13,719.91 207.89,720.49 208.64,721.25 C209.40,722.00 210.16,724.02 210.91,724.27 C211.67,724.52 212.43,723.64 213.18,722.76 C213.94,721.88 214.69,719.98 215.45,718.98 C216.21,717.97 216.96,716.83 217.72,716.71 C218.48,716.58 219.23,717.21 219.99,718.22 C220.75,719.23 221.63,721.25 222.26,722.76 C222.89,724.27 223.52,726.54 223.77,727.30" fill="none" stroke="#8096c8" stroke-width="2.0" stroke-linejoin="round" stroke-linecap="round"/>
<rect x="41.8" y="666.5" width="191" height="113.3" fill="none" stroke="#4a4a4a" stroke-width="1.0"/>
<line x1="38.0" x2="41.8" y1="671.30" y2="671.30" stroke="#333" stroke-width="1.05"/>
<text x="35.8" y="675.60" font-size="10.9" text-anchor="end" fill="#4d4d4d">2</text>
<line x1="38.0" x2="41.8" y1="697.20" y2="697.20" stroke="#333" stroke-width="1.05"/>
<text x="35.8" y="701.50" font-size="10.9" text-anchor="end" fill="#4d4d4d">1</text>
<line x1="38.0" x2="41.8" y1="723.10" y2="723.10" stroke="#333" stroke-width="1.05"/>
<text x="35.8" y="727.40" font-size="10.9" text-anchor="end" fill="#4d4d4d">0</text>
<line x1="38.0" x2="41.8" y1="749.00" y2="749.00" stroke="#333" stroke-width="1.05"/>
<text x="35.8" y="753.30" font-size="10.9" text-anchor="end" fill="#4d4d4d">-1</text>
<line x1="38.0" x2="41.8" y1="774.90" y2="774.90" stroke="#333" stroke-width="1.05"/>
<text x="35.8" y="779.20" font-size="10.9" text-anchor="end" fill="#4d4d4d">-2</text>
<text x="245.8" y="659.7" font-size="10.7" fill="#1a1a1a">Japan</text>
<rect x="240.5" y="666.5" width="191" height="113.3" fill="#fff"/>
<line x1="240.5" x2="431.5" y1="684.25" y2="684.25" stroke="#ededed" stroke-width="0.9"/>
<line x1="240.5" x2="431.5" y1="710.15" y2="710.15" stroke="#ededed" stroke-width="0.9"/>
<line x1="240.5" x2="431.5" y1="736.05" y2="736.05" stroke="#ededed" stroke-width="0.9"/>
<line x1="240.5" x2="431.5" y1="761.95" y2="761.95" stroke="#ededed" stroke-width="0.9"/>
<line x1="241.01" x2="241.01" y1="666.5" y2="779.8" stroke="#ededed" stroke-width="0.9"/>
<line x1="256.34" x2="256.34" y1="666.5" y2="779.8" stroke="#ededed" stroke-width="0.9"/>
<line x1="271.67" x2="271.67" y1="666.5" y2="779.8" stroke="#ededed" stroke-width="0.9"/>
<line x1="287.01" x2="287.01" y1="666.5" y2="779.8" stroke="#ededed" stroke-width="0.9"/>
<line x1="302.34" x2="302.34" y1="666.5" y2="779.8" stroke="#ededed" stroke-width="0.9"/>
<line x1="317.92" x2="317.92" y1="666.5" y2="779.8" stroke="#ededed" stroke-width="0.9"/>
<line x1="333.25" x2="333.25" y1="666.5" y2="779.8" stroke="#ededed" stroke-width="0.9"/>
<line x1="348.59" x2="348.59" y1="666.5" y2="779.8" stroke="#ededed" stroke-width="0.9"/>
<line x1="363.92" x2="363.92" y1="666.5" y2="779.8" stroke="#ededed" stroke-width="0.9"/>
<line x1="379.25" x2="379.25" y1="666.5" y2="779.8" stroke="#ededed" stroke-width="0.9"/>
<line x1="394.83" x2="394.83" y1="666.5" y2="779.8" stroke="#ededed" stroke-width="0.9"/>
<line x1="409.66" x2="409.66" y1="666.5" y2="779.8" stroke="#ededed" stroke-width="0.9"/>
<line x1="424.49" x2="424.49" y1="666.5" y2="779.8" stroke="#ededed" stroke-width="0.9"/>
<line x1="240.5" x2="431.5" y1="671.30" y2="671.30" stroke="#e8e8e8" stroke-width="1"/>
<line x1="240.5" x2="431.5" y1="697.20" y2="697.20" stroke="#e8e8e8" stroke-width="1"/>
<line x1="240.5" x2="431.5" y1="723.10" y2="723.10" stroke="#e8e8e8" stroke-width="1"/>
<line x1="240.5" x2="431.5" y1="749.00" y2="749.00" stroke="#e8e8e8" stroke-width="1"/>
<line x1="240.5" x2="431.5" y1="774.90" y2="774.90" stroke="#e8e8e8" stroke-width="1"/>
<line x1="248.80" x2="248.80" y1="666.5" y2="779.8" stroke="#e8e8e8" stroke-width="1"/>
<line x1="263.88" x2="263.88" y1="666.5" y2="779.8" stroke="#e8e8e8" stroke-width="1"/>
<line x1="279.46" x2="279.46" y1="666.5" y2="779.8" stroke="#e8e8e8" stroke-width="1"/>
<line x1="294.55" x2="294.55" y1="666.5" y2="779.8" stroke="#e8e8e8" stroke-width="1"/>
<line x1="310.13" x2="310.13" y1="666.5" y2="779.8" stroke="#e8e8e8" stroke-width="1"/>
<line x1="325.71" x2="325.71" y1="666.5" y2="779.8" stroke="#e8e8e8" stroke-width="1"/>
<line x1="340.79" x2="340.79" y1="666.5" y2="779.8" stroke="#e8e8e8" stroke-width="1"/>
<line x1="356.38" x2="356.38" y1="666.5" y2="779.8" stroke="#e8e8e8" stroke-width="1"/>
<line x1="371.46" x2="371.46" y1="666.5" y2="779.8" stroke="#e8e8e8" stroke-width="1"/>
<line x1="387.04" x2="387.04" y1="666.5" y2="779.8" stroke="#e8e8e8" stroke-width="1"/>
<line x1="402.63" x2="402.63" y1="666.5" y2="779.8" stroke="#e8e8e8" stroke-width="1"/>
<line x1="416.70" x2="416.70" y1="666.5" y2="779.8" stroke="#e8e8e8" stroke-width="1"/>
<path d="M248.30,774.90V728.86H275.90V774.90ZM275.90,774.90V740.37H279.60V774.90ZM279.60,774.90V751.88H305.40V774.90ZM305.40,774.90V740.37H336.80V774.90ZM336.80,774.90V751.88H346.70V774.90ZM346.70,774.90V740.37H371.60V774.90ZM371.60,774.90V728.86H423.80V774.90Z" fill="#d4d4d4" fill-opacity="0.75"/>
<line x1="240.5" x2="431.5" y1="723.10" y2="723.10" stroke="#1a1a1a" stroke-width="1" stroke-dasharray="4,3"/>
<path d="M358.48,738.64 C358.73,738.26 359.48,737.26 359.99,736.37 C360.49,735.49 361.00,734.48 361.50,733.35 C362.01,732.21 362.51,730.70 363.01,729.57 C363.52,728.43 364.02,727.42 364.53,726.54 C365.03,725.66 365.41,724.90 366.04,724.27 C366.67,723.64 367.55,722.88 368.31,722.76 C369.07,722.63 369.82,723.51 370.58,723.51 C371.33,723.51 372.09,723.14 372.85,722.76 C373.60,722.38 374.36,721.50 375.12,721.25 C375.87,720.99 377.01,721.25 377.39,721.25" fill="none" stroke="#1d55d6" stroke-width="2.0" stroke-linejoin="round" stroke-linecap="round"/>
<path d="M248.77,737.89 C249.08,737.51 249.91,736.37 250.59,735.62 C251.27,734.86 252.10,734.36 252.86,733.35 C253.62,732.34 254.45,730.95 255.13,729.57 C255.81,728.18 256.39,725.66 256.94,725.03 C257.50,724.40 257.88,725.15 258.46,725.78 C259.04,726.41 259.72,728.81 260.42,728.81 C261.13,728.81 261.94,726.54 262.69,725.78 C263.45,725.03 264.21,725.03 264.96,724.27 C265.72,723.51 266.55,723.01 267.23,721.25 C267.91,719.48 268.47,715.37 269.05,713.68 C269.63,711.99 270.18,710.98 270.71,711.11 C271.24,711.23 271.67,712.62 272.22,714.44 C272.78,716.25 273.48,720.36 274.04,722.00 C274.59,723.64 275.05,724.40 275.55,724.27 C276.06,724.14 276.56,722.18 277.07,721.25 C277.57,720.31 278.07,718.93 278.58,718.67 C279.08,718.42 279.59,719.05 280.09,719.73 C280.60,720.41 281.10,722.76 281.60,722.76 C282.11,722.76 282.61,721.12 283.12,719.73 C283.62,718.35 284.13,715.82 284.63,714.44 C285.13,713.05 285.64,711.41 286.14,711.41 C286.65,711.41 287.15,712.67 287.66,714.44 C288.16,716.20 288.66,720.36 289.17,722.00 C289.67,723.64 290.05,723.89 290.68,724.27 C291.31,724.65 292.27,724.14 292.95,724.27 C293.63,724.40 294.21,724.52 294.77,725.03 C295.32,725.53 295.70,726.92 296.28,727.30 C296.86,727.67 297.67,727.93 298.25,727.30 C298.83,726.67 299.25,724.52 299.76,723.51 C300.26,722.51 300.77,721.37 301.27,721.25 C301.78,721.12 302.28,721.88 302.78,722.76 C303.29,723.64 303.67,725.15 304.30,726.54 C304.93,727.93 305.89,730.07 306.57,731.08 C307.25,732.09 307.88,732.59 308.38,732.59 C308.89,732.59 309.14,732.34 309.59,731.08 C310.05,729.82 310.47,726.04 311.10,725.03 C311.73,724.02 312.62,725.15 313.37,725.03 C314.13,724.90 314.89,724.27 315.64,724.27 C316.40,724.27 317.16,725.15 317.91,725.03 C318.67,724.90 319.43,724.27 320.18,723.51 C320.94,722.76 321.74,721.04 322.45,720.49 C323.16,719.93 323.79,719.93 324.42,720.19 C325.05,720.44 325.55,721.32 326.23,722.00 C326.91,722.68 327.87,724.27 328.50,724.27 C329.13,724.27 329.51,723.14 330.02,722.00 C330.52,720.87 331.02,717.97 331.53,717.46 C332.03,716.96 332.54,718.09 333.04,718.98 C333.55,719.86 333.92,722.00 334.55,722.76 C335.18,723.51 336.44,723.39 336.82,723.51" fill="none" stroke="#8096c8" stroke-width="2.0" stroke-linejoin="round" stroke-linecap="round"/>
<path d="M335.78,722.76 C336.16,722.88 337.30,723.39 338.05,723.51 C338.81,723.64 339.56,723.64 340.32,723.51 C341.08,723.39 341.83,723.26 342.59,722.76 C343.35,722.25 344.10,720.87 344.86,720.49 C345.62,720.11 346.37,720.61 347.13,720.49 C347.89,720.36 348.64,720.11 349.40,719.73 C350.15,719.35 351.04,718.72 351.67,718.22 C352.30,717.72 352.68,716.45 353.18,716.71 C353.68,716.96 354.19,718.72 354.69,719.73 C355.20,720.74 355.70,721.88 356.21,722.76 C356.71,723.64 357.21,724.14 357.72,725.03 C358.22,725.91 358.73,727.30 359.23,728.05 C359.74,728.81 360.24,729.82 360.74,729.57 C361.25,729.31 361.75,727.42 362.26,726.54 C362.76,725.66 363.14,724.90 363.77,724.27 C364.40,723.64 365.28,723.01 366.04,722.76 C366.80,722.51 367.55,722.63 368.31,722.76 C369.07,722.88 369.82,723.51 370.58,723.51 C371.33,723.51 372.09,723.14 372.85,722.76 C373.60,722.38 374.36,721.50 375.12,721.25 C375.87,720.99 376.76,720.99 377.39,721.25 C378.02,721.50 378.39,723.14 378.90,722.76 C379.40,722.38 379.91,720.36 380.41,718.98 C380.92,717.59 381.47,715.45 381.92,714.44 C382.38,713.43 382.76,711.92 383.13,712.92 C383.51,713.93 383.77,718.09 384.19,720.49 C384.62,722.88 385.20,725.53 385.71,727.30 C386.21,729.06 386.59,730.32 387.22,731.08 C387.85,731.84 388.86,731.71 389.49,731.84 C390.12,731.96 390.50,732.21 391.00,731.84 C391.51,731.46 391.88,730.32 392.51,729.57 C393.14,728.81 394.03,727.93 394.78,727.30 C395.54,726.67 396.30,726.29 397.05,725.78 C397.81,725.28 398.57,724.78 399.32,724.27 C400.08,723.77 400.84,723.26 401.59,722.76 C402.35,722.25 403.10,721.62 403.86,721.25 C404.62,720.87 405.37,720.49 406.13,720.49 C406.89,720.49 407.64,721.37 408.40,721.25 C409.16,721.12 409.91,720.11 410.67,719.73 C411.43,719.35 412.18,718.85 412.94,718.98 C413.69,719.10 414.45,719.98 415.21,720.49 C415.96,720.99 416.72,722.00 417.48,722.00 C418.23,722.00 418.99,720.87 419.75,720.49 C420.50,720.11 421.38,719.86 422.02,719.73 C422.65,719.61 423.28,719.73 423.53,719.73" fill="none" stroke="#8096c8" stroke-width="2.0" stroke-linejoin="round" stroke-linecap="round"/>
<rect x="240.5" y="666.5" width="191" height="113.3" fill="none" stroke="#4a4a4a" stroke-width="1.0"/>
<text x="444.8" y="659.7" font-size="10.7" fill="#1a1a1a">Netherlands</text>
<rect x="439.5" y="666.5" width="191" height="113.3" fill="#fff"/>
<line x1="439.5" x2="630.5" y1="684.25" y2="684.25" stroke="#ededed" stroke-width="0.9"/>
<line x1="439.5" x2="630.5" y1="710.15" y2="710.15" stroke="#ededed" stroke-width="0.9"/>
<line x1="439.5" x2="630.5" y1="736.05" y2="736.05" stroke="#ededed" stroke-width="0.9"/>
<line x1="439.5" x2="630.5" y1="761.95" y2="761.95" stroke="#ededed" stroke-width="0.9"/>
<line x1="454.74" x2="454.74" y1="666.5" y2="779.8" stroke="#ededed" stroke-width="0.9"/>
<line x1="470.07" x2="470.07" y1="666.5" y2="779.8" stroke="#ededed" stroke-width="0.9"/>
<line x1="485.41" x2="485.41" y1="666.5" y2="779.8" stroke="#ededed" stroke-width="0.9"/>
<line x1="500.74" x2="500.74" y1="666.5" y2="779.8" stroke="#ededed" stroke-width="0.9"/>
<line x1="516.32" x2="516.32" y1="666.5" y2="779.8" stroke="#ededed" stroke-width="0.9"/>
<line x1="531.65" x2="531.65" y1="666.5" y2="779.8" stroke="#ededed" stroke-width="0.9"/>
<line x1="546.99" x2="546.99" y1="666.5" y2="779.8" stroke="#ededed" stroke-width="0.9"/>
<line x1="562.32" x2="562.32" y1="666.5" y2="779.8" stroke="#ededed" stroke-width="0.9"/>
<line x1="577.65" x2="577.65" y1="666.5" y2="779.8" stroke="#ededed" stroke-width="0.9"/>
<line x1="593.23" x2="593.23" y1="666.5" y2="779.8" stroke="#ededed" stroke-width="0.9"/>
<line x1="608.06" x2="608.06" y1="666.5" y2="779.8" stroke="#ededed" stroke-width="0.9"/>
<line x1="622.89" x2="622.89" y1="666.5" y2="779.8" stroke="#ededed" stroke-width="0.9"/>
<line x1="439.5" x2="630.5" y1="671.30" y2="671.30" stroke="#e8e8e8" stroke-width="1"/>
<line x1="439.5" x2="630.5" y1="697.20" y2="697.20" stroke="#e8e8e8" stroke-width="1"/>
<line x1="439.5" x2="630.5" y1="723.10" y2="723.10" stroke="#e8e8e8" stroke-width="1"/>
<line x1="439.5" x2="630.5" y1="749.00" y2="749.00" stroke="#e8e8e8" stroke-width="1"/>
<line x1="439.5" x2="630.5" y1="774.90" y2="774.90" stroke="#e8e8e8" stroke-width="1"/>
<line x1="447.20" x2="447.20" y1="666.5" y2="779.8" stroke="#e8e8e8" stroke-width="1"/>
<line x1="462.28" x2="462.28" y1="666.5" y2="779.8" stroke="#e8e8e8" stroke-width="1"/>
<line x1="477.86" x2="477.86" y1="666.5" y2="779.8" stroke="#e8e8e8" stroke-width="1"/>
<line x1="492.95" x2="492.95" y1="666.5" y2="779.8" stroke="#e8e8e8" stroke-width="1"/>
<line x1="508.53" x2="508.53" y1="666.5" y2="779.8" stroke="#e8e8e8" stroke-width="1"/>
<line x1="524.11" x2="524.11" y1="666.5" y2="779.8" stroke="#e8e8e8" stroke-width="1"/>
<line x1="539.19" x2="539.19" y1="666.5" y2="779.8" stroke="#e8e8e8" stroke-width="1"/>
<line x1="554.78" x2="554.78" y1="666.5" y2="779.8" stroke="#e8e8e8" stroke-width="1"/>
<line x1="569.86" x2="569.86" y1="666.5" y2="779.8" stroke="#e8e8e8" stroke-width="1"/>
<line x1="585.44" x2="585.44" y1="666.5" y2="779.8" stroke="#e8e8e8" stroke-width="1"/>
<line x1="601.03" x2="601.03" y1="666.5" y2="779.8" stroke="#e8e8e8" stroke-width="1"/>
<line x1="615.10" x2="615.10" y1="666.5" y2="779.8" stroke="#e8e8e8" stroke-width="1"/>
<path d="M447.30,774.90V694.32H478.00V774.90ZM478.00,774.90V705.83H485.10V774.90ZM485.10,774.90V717.35H493.50V774.90ZM493.50,774.90V740.37H516.90V774.90ZM516.90,774.90V717.35H533.30V774.90ZM533.30,774.90V728.86H538.30V774.90ZM538.30,774.90V705.83H565.50V774.90ZM565.50,774.90V717.35H577.10V774.90ZM577.10,774.90V694.32H596.40V774.90ZM596.40,774.90V682.81H604.80V774.90ZM604.80,774.90V694.32H622.80V774.90Z" fill="#d4d4d4" fill-opacity="0.75"/>
<line x1="439.5" x2="630.5" y1="723.10" y2="723.10" stroke="#1a1a1a" stroke-width="1" stroke-dasharray="4,3"/>
<path d="M545.37,737.89 C545.75,737.51 546.89,736.37 547.64,735.62 C548.40,734.86 549.28,734.10 549.91,733.35 C550.54,732.59 550.92,732.21 551.42,731.08 C551.93,729.94 552.31,728.18 552.94,726.54 C553.57,724.90 554.45,722.46 555.21,721.25 C555.96,720.03 556.72,719.28 557.48,719.28 C558.23,719.28 558.99,721.17 559.74,721.25 C560.50,721.32 561.26,720.49 562.01,719.73 C562.77,718.98 563.60,717.46 564.28,716.71 C564.96,715.95 565.47,715.07 566.10,715.19 C566.73,715.32 567.36,716.45 568.07,717.46 C568.77,718.47 569.58,719.61 570.33,721.25 C571.09,722.88 571.85,725.15 572.60,727.30 C573.36,729.44 574.24,733.22 574.87,734.10 C575.50,734.99 575.76,733.85 576.39,732.59 C577.02,731.33 577.90,728.18 578.66,726.54 C579.41,724.90 580.17,723.14 580.92,722.76 C581.68,722.38 582.44,723.77 583.19,724.27 C583.95,724.78 584.71,726.04 585.46,725.78 C586.22,725.53 586.98,723.39 587.73,722.76 C588.49,722.13 589.25,721.62 590.00,722.00 C590.76,722.38 591.51,724.47 592.27,725.03 C593.03,725.58 593.78,725.28 594.54,725.33 C595.30,725.38 596.05,725.83 596.81,725.33 C597.57,724.83 598.32,723.11 599.08,722.30 C599.84,721.50 600.59,720.99 601.35,720.49 C602.10,719.98 602.86,718.82 603.62,719.28 C604.37,719.73 605.00,721.80 605.89,723.21 C606.77,724.62 608.03,727.20 608.91,727.75 C609.79,728.31 610.43,727.75 611.18,726.54 C611.94,725.33 612.69,721.37 613.45,720.49 C614.21,719.61 614.96,720.94 615.72,721.25 C616.48,721.55 617.23,721.93 617.99,722.30 C618.75,722.68 619.68,723.01 620.26,723.51 C620.84,724.02 621.27,725.03 621.47,725.33" fill="none" stroke="#1d55d6" stroke-width="2.0" stroke-linejoin="round" stroke-linecap="round"/>
<path d="M447.77,726.24 C448.13,726.29 449.09,725.99 449.89,726.54 C450.70,727.09 451.78,729.31 452.62,729.57 C453.45,729.82 454.13,729.19 454.89,728.05 C455.64,726.92 456.40,723.89 457.15,722.76 C457.91,721.62 458.67,721.25 459.42,721.25 C460.18,721.25 460.94,722.63 461.69,722.76 C462.45,722.88 463.21,722.88 463.96,722.00 C464.72,721.12 465.55,717.84 466.23,717.46 C466.91,717.08 467.42,718.60 468.05,719.73 C468.68,720.87 469.31,724.27 470.01,724.27 C470.72,724.27 471.60,720.92 472.28,719.73 C472.96,718.55 473.47,716.66 474.10,717.16 C474.73,717.66 475.36,720.69 476.07,722.76 C476.77,724.83 477.65,728.05 478.33,729.57 C479.02,731.08 479.52,732.34 480.15,731.84 C480.78,731.33 481.41,728.31 482.12,726.54 C482.82,724.78 483.63,722.20 484.39,721.25 C485.14,720.29 485.90,720.67 486.66,720.79 C487.41,720.92 488.17,722.93 488.92,722.00 C489.68,721.07 490.44,717.21 491.19,715.19 C491.95,713.18 492.78,710.78 493.46,709.90 C494.14,709.02 494.77,708.89 495.28,709.90 C495.78,710.91 495.91,713.55 496.49,715.95 C497.07,718.35 498.00,723.39 498.76,724.27 C499.51,725.15 500.40,722.08 501.03,721.25 C501.66,720.41 502.04,719.15 502.54,719.28 C503.04,719.40 503.42,720.54 504.05,722.00 C504.68,723.46 505.57,726.16 506.32,728.05 C507.08,729.94 508.01,732.09 508.59,733.35 C509.17,734.61 509.30,736.00 509.80,735.62 C510.31,735.24 510.94,732.84 511.62,731.08 C512.30,729.31 513.13,726.67 513.89,725.03 C514.64,723.39 515.40,722.63 516.16,721.25 C516.91,719.86 517.79,717.72 518.43,716.71 C519.06,715.70 519.43,715.32 519.94,715.19 C520.44,715.07 520.95,715.19 521.45,715.95 C521.96,716.71 522.33,718.85 522.96,719.73 C523.59,720.61 524.48,720.74 525.23,721.25 C525.99,721.75 526.75,722.13 527.50,722.76 C528.26,723.39 529.02,724.78 529.77,725.03 C530.53,725.28 531.28,724.90 532.04,724.27 C532.80,723.64 533.55,721.75 534.31,721.25 C535.07,720.74 536.20,721.25 536.58,721.25" fill="none" stroke="#8096c8" stroke-width="2.0" stroke-linejoin="round" stroke-linecap="round"/>
<path d="M533.27,722.76 C533.65,722.38 534.78,720.61 535.54,720.49 C536.30,720.36 537.05,720.99 537.81,722.00 C538.56,723.01 539.32,725.66 540.08,726.54 C540.83,727.42 541.59,727.42 542.35,727.30 C543.10,727.17 543.86,725.78 544.62,725.78 C545.37,725.78 546.13,726.79 546.89,727.30 C547.64,727.80 548.40,728.43 549.15,728.81 C549.91,729.19 550.72,730.32 551.42,729.57 C552.13,728.81 552.76,725.78 553.39,724.27 C554.02,722.76 554.52,721.37 555.21,720.49 C555.89,719.61 556.72,718.85 557.48,718.98 C558.23,719.10 558.99,721.12 559.74,721.25 C560.50,721.37 561.26,720.49 562.01,719.73 C562.77,718.98 563.60,717.46 564.28,716.71 C564.96,715.95 565.47,715.07 566.10,715.19 C566.73,715.32 567.36,716.45 568.07,717.46 C568.77,718.47 569.58,719.73 570.33,721.25 C571.09,722.76 571.90,724.65 572.60,726.54 C573.31,728.43 573.94,731.71 574.57,732.59 C575.20,733.47 575.70,732.84 576.39,731.84 C577.07,730.83 577.90,728.05 578.66,726.54 C579.41,725.03 580.17,723.14 580.92,722.76 C581.68,722.38 582.44,723.77 583.19,724.27 C583.95,724.78 584.71,726.04 585.46,725.78 C586.22,725.53 586.98,723.39 587.73,722.76 C588.49,722.13 589.25,721.62 590.00,722.00 C590.76,722.38 591.51,724.52 592.27,725.03 C593.03,725.53 593.78,725.41 594.54,725.03 C595.30,724.65 596.05,723.26 596.81,722.76 C597.57,722.25 598.32,722.38 599.08,722.00 C599.84,721.62 600.59,720.99 601.35,720.49 C602.10,719.98 602.86,718.60 603.62,718.98 C604.37,719.35 605.13,721.50 605.89,722.76 C606.64,724.02 607.40,725.91 608.16,726.54 C608.91,727.17 609.67,727.42 610.43,726.54 C611.18,725.66 611.94,722.25 612.69,721.25 C613.45,720.24 614.21,720.36 614.96,720.49 C615.72,720.61 616.48,721.62 617.23,722.00 C617.99,722.38 618.75,722.38 619.50,722.76 C620.26,723.14 621.39,724.02 621.77,724.27" fill="none" stroke="#8096c8" stroke-width="2.0" stroke-linejoin="round" stroke-linecap="round"/>
<rect x="439.5" y="666.5" width="191" height="113.3" fill="none" stroke="#4a4a4a" stroke-width="1.0"/>
<line x1="630.5" x2="634.3" y1="774.90" y2="774.90" stroke="#333" stroke-width="1.05"/>
<text x="636.9" y="779.10" font-size="10.5" fill="#4d4d4d">0</text>
<line x1="630.5" x2="634.3" y1="763.39" y2="763.39" stroke="#333" stroke-width="1.05"/>
<text x="636.9" y="767.59" font-size="10.5" fill="#4d4d4d">1</text>
<line x1="630.5" x2="634.3" y1="751.88" y2="751.88" stroke="#333" stroke-width="1.05"/>
<text x="636.9" y="756.08" font-size="10.5" fill="#4d4d4d">2</text>
<line x1="630.5" x2="634.3" y1="740.37" y2="740.37" stroke="#333" stroke-width="1.05"/>
<text x="636.9" y="744.57" font-size="10.5" fill="#4d4d4d">3</text>
<line x1="630.5" x2="634.3" y1="728.86" y2="728.86" stroke="#333" stroke-width="1.05"/>
<text x="636.9" y="733.06" font-size="10.5" fill="#4d4d4d">4</text>
<line x1="630.5" x2="634.3" y1="717.35" y2="717.35" stroke="#333" stroke-width="1.05"/>
<text x="636.9" y="721.55" font-size="10.5" fill="#4d4d4d">5</text>
<line x1="630.5" x2="634.3" y1="705.83" y2="705.83" stroke="#333" stroke-width="1.05"/>
<text x="636.9" y="710.03" font-size="10.5" fill="#4d4d4d">6</text>
<line x1="630.5" x2="634.3" y1="694.32" y2="694.32" stroke="#333" stroke-width="1.05"/>
<text x="636.9" y="698.52" font-size="10.5" fill="#4d4d4d">7</text>
<line x1="630.5" x2="634.3" y1="682.81" y2="682.81" stroke="#333" stroke-width="1.05"/>
<text x="636.9" y="687.01" font-size="10.5" fill="#4d4d4d">8</text>
<line x1="630.5" x2="634.3" y1="671.30" y2="671.30" stroke="#333" stroke-width="1.05"/>
<text x="636.9" y="675.50" font-size="10.5" fill="#4d4d4d">9</text>
<text x="47.1" y="802.4" font-size="10.7" fill="#1a1a1a">Switzerland</text>
<rect x="41.8" y="809.2" width="191" height="113.3" fill="#fff"/>
<line x1="41.8" x2="232.8" y1="826.95" y2="826.95" stroke="#ededed" stroke-width="0.9"/>
<line x1="41.8" x2="232.8" y1="852.85" y2="852.85" stroke="#ededed" stroke-width="0.9"/>
<line x1="41.8" x2="232.8" y1="878.75" y2="878.75" stroke="#ededed" stroke-width="0.9"/>
<line x1="41.8" x2="232.8" y1="904.65" y2="904.65" stroke="#ededed" stroke-width="0.9"/>
<line x1="42.51" x2="42.51" y1="809.2" y2="922.5" stroke="#ededed" stroke-width="0.9"/>
<line x1="57.84" x2="57.84" y1="809.2" y2="922.5" stroke="#ededed" stroke-width="0.9"/>
<line x1="73.17" x2="73.17" y1="809.2" y2="922.5" stroke="#ededed" stroke-width="0.9"/>
<line x1="88.51" x2="88.51" y1="809.2" y2="922.5" stroke="#ededed" stroke-width="0.9"/>
<line x1="103.84" x2="103.84" y1="809.2" y2="922.5" stroke="#ededed" stroke-width="0.9"/>
<line x1="119.42" x2="119.42" y1="809.2" y2="922.5" stroke="#ededed" stroke-width="0.9"/>
<line x1="134.75" x2="134.75" y1="809.2" y2="922.5" stroke="#ededed" stroke-width="0.9"/>
<line x1="150.09" x2="150.09" y1="809.2" y2="922.5" stroke="#ededed" stroke-width="0.9"/>
<line x1="165.42" x2="165.42" y1="809.2" y2="922.5" stroke="#ededed" stroke-width="0.9"/>
<line x1="180.75" x2="180.75" y1="809.2" y2="922.5" stroke="#ededed" stroke-width="0.9"/>
<line x1="196.33" x2="196.33" y1="809.2" y2="922.5" stroke="#ededed" stroke-width="0.9"/>
<line x1="211.16" x2="211.16" y1="809.2" y2="922.5" stroke="#ededed" stroke-width="0.9"/>
<line x1="225.99" x2="225.99" y1="809.2" y2="922.5" stroke="#ededed" stroke-width="0.9"/>
<line x1="41.8" x2="232.8" y1="814.00" y2="814.00" stroke="#e8e8e8" stroke-width="1"/>
<line x1="41.8" x2="232.8" y1="839.90" y2="839.90" stroke="#e8e8e8" stroke-width="1"/>
<line x1="41.8" x2="232.8" y1="865.80" y2="865.80" stroke="#e8e8e8" stroke-width="1"/>
<line x1="41.8" x2="232.8" y1="891.70" y2="891.70" stroke="#e8e8e8" stroke-width="1"/>
<line x1="41.8" x2="232.8" y1="917.60" y2="917.60" stroke="#e8e8e8" stroke-width="1"/>
<line x1="50.30" x2="50.30" y1="809.2" y2="922.5" stroke="#e8e8e8" stroke-width="1"/>
<line x1="65.38" x2="65.38" y1="809.2" y2="922.5" stroke="#e8e8e8" stroke-width="1"/>
<line x1="80.96" x2="80.96" y1="809.2" y2="922.5" stroke="#e8e8e8" stroke-width="1"/>
<line x1="96.05" x2="96.05" y1="809.2" y2="922.5" stroke="#e8e8e8" stroke-width="1"/>
<line x1="111.63" x2="111.63" y1="809.2" y2="922.5" stroke="#e8e8e8" stroke-width="1"/>
<line x1="127.21" x2="127.21" y1="809.2" y2="922.5" stroke="#e8e8e8" stroke-width="1"/>
<line x1="142.29" x2="142.29" y1="809.2" y2="922.5" stroke="#e8e8e8" stroke-width="1"/>
<line x1="157.88" x2="157.88" y1="809.2" y2="922.5" stroke="#e8e8e8" stroke-width="1"/>
<line x1="172.96" x2="172.96" y1="809.2" y2="922.5" stroke="#e8e8e8" stroke-width="1"/>
<line x1="188.54" x2="188.54" y1="809.2" y2="922.5" stroke="#e8e8e8" stroke-width="1"/>
<line x1="204.13" x2="204.13" y1="809.2" y2="922.5" stroke="#e8e8e8" stroke-width="1"/>
<line x1="218.20" x2="218.20" y1="809.2" y2="922.5" stroke="#e8e8e8" stroke-width="1"/>
<path d="M50.10,917.60V837.02H62.90V917.60ZM62.90,917.60V848.53H69.70V917.60ZM69.70,917.60V865.80H83.00V917.60ZM83.00,917.60V871.56H90.90V917.60ZM90.90,917.60V883.07H110.60V917.60ZM110.60,917.60V871.56H142.40V917.60ZM142.40,917.60V883.07H147.40V917.60ZM147.40,917.60V894.58H150.90V917.60ZM150.90,917.60V871.56H158.00V917.60ZM158.00,917.60V860.05H178.40V917.60ZM178.40,917.60V848.53H225.20V917.60Z" fill="#d4d4d4" fill-opacity="0.75"/>
<line x1="41.8" x2="232.8" y1="865.80" y2="865.80" stroke="#1a1a1a" stroke-width="1" stroke-dasharray="4,3"/>
<path d="M152.36,885.94 C152.67,885.31 153.50,883.54 154.18,882.16 C154.86,880.77 155.69,879.38 156.45,877.62 C157.21,875.85 157.96,873.33 158.72,871.57 C159.48,869.80 160.23,868.41 160.99,867.03 C161.74,865.64 162.50,864.13 163.26,863.25 C164.01,862.36 164.77,862.11 165.53,861.73 C166.28,861.35 167.04,860.80 167.80,860.98 C168.55,861.15 169.31,861.98 170.07,862.79 C170.82,863.60 171.58,864.73 172.33,865.82 C173.09,866.90 173.85,868.14 174.60,869.30 C175.36,870.46 176.24,873.10 176.87,872.78 C177.50,872.45 177.63,868.84 178.39,867.33 C179.14,865.82 180.53,864.38 181.41,863.70 C182.29,863.02 183.05,862.31 183.68,863.25 C184.31,864.18 184.69,867.66 185.19,869.30 C185.70,870.94 186.08,873.08 186.71,873.08 C187.34,873.08 188.22,870.61 188.98,869.30 C189.73,867.99 190.49,865.89 191.25,865.21 C192.00,864.53 192.76,865.11 193.51,865.21 C194.27,865.31 195.03,865.56 195.78,865.82 C196.54,866.07 197.30,866.47 198.05,866.72 C198.81,866.98 199.57,866.83 200.32,867.33 C201.08,867.83 201.84,869.85 202.59,869.75 C203.35,869.65 204.10,867.63 204.86,866.72 C205.62,865.82 206.37,864.71 207.13,864.30 C207.89,863.90 208.64,864.23 209.40,864.30 C210.16,864.38 210.91,864.68 211.67,864.76 C212.43,864.83 213.18,864.68 213.94,864.76 C214.69,864.83 215.45,865.14 216.21,865.21 C216.96,865.29 217.72,865.11 218.48,865.21 C219.23,865.31 219.91,865.46 220.75,865.82 C221.58,866.17 223.02,867.08 223.47,867.33" fill="none" stroke="#1d55d6" stroke-width="2.0" stroke-linejoin="round" stroke-linecap="round"/>
<path d="M50.08,870.81 C50.33,870.43 50.96,869.17 51.59,868.54 C52.22,867.91 53.10,867.53 53.86,867.03 C54.62,866.52 55.37,865.64 56.13,865.51 C56.89,865.39 57.64,865.89 58.40,866.27 C59.15,866.65 59.91,867.91 60.67,867.78 C61.42,867.66 62.18,866.14 62.94,865.51 C63.69,864.88 64.45,864.13 65.21,864.00 C65.96,863.88 66.72,864.51 67.48,864.76 C68.23,865.01 68.99,865.89 69.74,865.51 C70.50,865.14 71.26,863.25 72.01,862.49 C72.77,861.73 73.53,861.35 74.28,860.98 C75.04,860.60 75.85,860.60 76.55,860.22 C77.26,859.84 77.89,858.58 78.52,858.71 C79.15,858.83 79.73,860.22 80.33,860.98 C80.94,861.73 81.52,863.50 82.15,863.25 C82.78,862.99 83.46,860.72 84.12,859.46 C84.77,858.20 85.45,856.56 86.08,855.68 C86.71,854.80 87.34,853.54 87.90,854.17 C88.45,854.80 88.91,856.82 89.41,859.46 C89.92,862.11 90.47,867.03 90.92,870.05 C91.38,873.08 91.68,876.23 92.13,877.62 C92.59,879.00 93.09,879.13 93.65,878.37 C94.20,877.62 94.78,874.84 95.46,873.08 C96.14,871.31 96.98,869.17 97.73,867.78 C98.49,866.40 99.25,865.77 100.00,864.76 C100.76,863.75 101.64,861.73 102.27,861.73 C102.90,861.73 103.28,863.50 103.78,864.76 C104.29,866.02 104.87,868.29 105.30,869.30 C105.73,870.31 105.85,871.44 106.36,870.81 C106.86,870.18 107.67,866.90 108.32,865.51 C108.98,864.13 109.66,862.74 110.29,862.49 C110.92,862.24 111.42,863.37 112.10,864.00 C112.79,864.63 113.62,865.89 114.37,866.27 C115.13,866.65 115.89,866.14 116.64,866.27 C117.40,866.40 118.16,867.03 118.91,867.03 C119.67,867.03 120.43,866.65 121.18,866.27 C121.94,865.89 122.69,864.88 123.45,864.76 C124.21,864.63 125.09,864.63 125.72,865.51 C126.35,866.40 126.85,868.67 127.23,870.05 C127.61,871.44 127.61,874.09 127.99,873.84 C128.37,873.58 128.87,869.17 129.50,868.54 C130.13,867.91 131.14,869.93 131.77,870.05 C132.40,870.18 132.78,870.56 133.28,869.30 C133.79,868.04 134.24,866.02 134.80,862.49 C135.35,858.96 136.11,851.02 136.61,848.12 C137.12,845.22 137.62,845.60 137.82,845.09" fill="none" stroke="#8096c8" stroke-width="2.0" stroke-linejoin="round" stroke-linecap="round"/>
<path d="M136.03,850.39 C136.28,849.43 137.03,844.89 137.54,844.64 C138.04,844.38 138.55,847.41 139.05,848.87 C139.56,850.34 140.11,851.14 140.56,853.41 C141.02,855.68 141.40,860.22 141.77,862.49 C142.15,864.76 142.40,866.02 142.83,867.03 C143.26,868.04 143.84,867.53 144.35,868.54 C144.85,869.55 145.36,872.83 145.86,873.08 C146.36,873.33 146.74,869.67 147.37,870.05 C148.00,870.43 148.89,874.34 149.64,875.35 C150.40,876.36 151.15,875.85 151.91,876.10 C152.67,876.36 153.42,877.24 154.18,876.86 C154.94,876.48 155.69,875.22 156.45,873.84 C157.21,872.45 157.96,869.93 158.72,868.54 C159.48,867.15 160.23,866.52 160.99,865.51 C161.74,864.51 162.50,863.12 163.26,862.49 C164.01,861.86 164.77,862.03 165.53,861.73 C166.28,861.43 167.04,860.55 167.80,860.67 C168.55,860.80 169.31,861.68 170.07,862.49 C170.82,863.30 171.58,864.51 172.33,865.51 C173.09,866.52 173.97,867.53 174.60,868.54 C175.23,869.55 175.61,871.82 176.12,871.57 C176.62,871.31 177.13,868.16 177.63,867.03 C178.13,865.89 178.51,865.39 179.14,864.76 C179.77,864.13 180.66,863.62 181.41,863.25 C182.17,862.87 183.05,861.61 183.68,862.49 C184.31,863.37 184.69,866.90 185.19,868.54 C185.70,870.18 186.08,872.32 186.71,872.32 C187.34,872.32 188.22,869.80 188.98,868.54 C189.73,867.28 190.49,865.39 191.25,864.76 C192.00,864.13 192.76,864.63 193.51,864.76 C194.27,864.88 195.03,865.26 195.78,865.51 C196.54,865.77 197.30,866.02 198.05,866.27 C198.81,866.52 199.57,866.65 200.32,867.03 C201.08,867.41 201.84,868.67 202.59,868.54 C203.35,868.41 204.10,867.03 204.86,866.27 C205.62,865.51 206.37,864.38 207.13,864.00 C207.89,863.62 208.64,863.88 209.40,864.00 C210.16,864.13 210.91,864.63 211.67,864.76 C212.43,864.88 213.18,864.76 213.94,864.76 C214.69,864.76 215.45,864.76 216.21,864.76 C216.96,864.76 217.72,864.63 218.48,864.76 C219.23,864.88 219.86,865.26 220.75,865.51 C221.63,865.77 223.27,866.14 223.77,866.27" fill="none" stroke="#8096c8" stroke-width="2.0" stroke-linejoin="round" stroke-linecap="round"/>
<rect x="41.8" y="809.2" width="191" height="113.3" fill="none" stroke="#4a4a4a" stroke-width="1.0"/>
<line x1="38.0" x2="41.8" y1="814.00" y2="814.00" stroke="#333" stroke-width="1.05"/>
<text x="35.8" y="818.30" font-size="10.9" text-anchor="end" fill="#4d4d4d">2</text>
<line x1="38.0" x2="41.8" y1="839.90" y2="839.90" stroke="#333" stroke-width="1.05"/>
<text x="35.8" y="844.20" font-size="10.9" text-anchor="end" fill="#4d4d4d">1</text>
<line x1="38.0" x2="41.8" y1="865.80" y2="865.80" stroke="#333" stroke-width="1.05"/>
<text x="35.8" y="870.10" font-size="10.9" text-anchor="end" fill="#4d4d4d">0</text>
<line x1="38.0" x2="41.8" y1="891.70" y2="891.70" stroke="#333" stroke-width="1.05"/>
<text x="35.8" y="896.00" font-size="10.9" text-anchor="end" fill="#4d4d4d">-1</text>
<line x1="38.0" x2="41.8" y1="917.60" y2="917.60" stroke="#333" stroke-width="1.05"/>
<text x="35.8" y="921.90" font-size="10.9" text-anchor="end" fill="#4d4d4d">-2</text>
<line x1="50.30" x2="50.30" y1="922.5" y2="926.4" stroke="#333" stroke-width="1.05"/>
<text transform="translate(54.60,933.30) rotate(-45)" font-size="7.6" text-anchor="end" fill="#4d4d4d">2020-Apr</text>
<line x1="65.38" x2="65.38" y1="922.5" y2="926.4" stroke="#333" stroke-width="1.05"/>
<text transform="translate(69.68,933.30) rotate(-45)" font-size="7.6" text-anchor="end" fill="#4d4d4d">2020-May</text>
<line x1="80.96" x2="80.96" y1="922.5" y2="926.4" stroke="#333" stroke-width="1.05"/>
<text transform="translate(85.26,933.30) rotate(-45)" font-size="7.6" text-anchor="end" fill="#4d4d4d">2020-Jun</text>
<line x1="96.05" x2="96.05" y1="922.5" y2="926.4" stroke="#333" stroke-width="1.05"/>
<text transform="translate(100.35,933.30) rotate(-45)" font-size="7.6" text-anchor="end" fill="#4d4d4d">2020-Jul</text>
<line x1="111.63" x2="111.63" y1="922.5" y2="926.4" stroke="#333" stroke-width="1.05"/>
<text transform="translate(115.93,933.30) rotate(-45)" font-size="7.6" text-anchor="end" fill="#4d4d4d">2020-Aug</text>
<line x1="127.21" x2="127.21" y1="922.5" y2="926.4" stroke="#333" stroke-width="1.05"/>
<text transform="translate(131.51,933.30) rotate(-45)" font-size="7.6" text-anchor="end" fill="#4d4d4d">2020-Sep</text>
<line x1="142.29" x2="142.29" y1="922.5" y2="926.4" stroke="#333" stroke-width="1.05"/>
<text transform="translate(146.59,933.30) rotate(-45)" font-size="7.6" text-anchor="end" fill="#4d4d4d">2020-Oct</text>
<line x1="157.88" x2="157.88" y1="922.5" y2="926.4" stroke="#333" stroke-width="1.05"/>
<text transform="translate(162.18,933.30) rotate(-45)" font-size="7.6" text-anchor="end" fill="#4d4d4d">2020-Nov</text>
<line x1="172.96" x2="172.96" y1="922.5" y2="926.4" stroke="#333" stroke-width="1.05"/>
<text transform="translate(177.26,933.30) rotate(-45)" font-size="7.6" text-anchor="end" fill="#4d4d4d">2020-Dec</text>
<line x1="188.54" x2="188.54" y1="922.5" y2="926.4" stroke="#333" stroke-width="1.05"/>
<text transform="translate(192.84,933.30) rotate(-45)" font-size="7.6" text-anchor="end" fill="#4d4d4d">2021-Jan</text>
<line x1="204.13" x2="204.13" y1="922.5" y2="926.4" stroke="#333" stroke-width="1.05"/>
<text transform="translate(208.43,933.30) rotate(-45)" font-size="7.6" text-anchor="end" fill="#4d4d4d">2021-Feb</text>
<line x1="218.20" x2="218.20" y1="922.5" y2="926.4" stroke="#333" stroke-width="1.05"/>
<text transform="translate(222.50,933.30) rotate(-45)" font-size="7.6" text-anchor="end" fill="#4d4d4d">2021-Mar</text>
<text x="245.8" y="802.4" font-size="10.7" fill="#1a1a1a">UnitedKingdom</text>
<rect x="240.5" y="809.2" width="191" height="113.3" fill="#fff"/>
<line x1="240.5" x2="431.5" y1="826.95" y2="826.95" stroke="#ededed" stroke-width="0.9"/>
<line x1="240.5" x2="431.5" y1="852.85" y2="852.85" stroke="#ededed" stroke-width="0.9"/>
<line x1="240.5" x2="431.5" y1="878.75" y2="878.75" stroke="#ededed" stroke-width="0.9"/>
<line x1="240.5" x2="431.5" y1="904.65" y2="904.65" stroke="#ededed" stroke-width="0.9"/>
<line x1="241.01" x2="241.01" y1="809.2" y2="922.5" stroke="#ededed" stroke-width="0.9"/>
<line x1="256.34" x2="256.34" y1="809.2" y2="922.5" stroke="#ededed" stroke-width="0.9"/>
<line x1="271.67" x2="271.67" y1="809.2" y2="922.5" stroke="#ededed" stroke-width="0.9"/>
<line x1="287.01" x2="287.01" y1="809.2" y2="922.5" stroke="#ededed" stroke-width="0.9"/>
<line x1="302.34" x2="302.34" y1="809.2" y2="922.5" stroke="#ededed" stroke-width="0.9"/>
<line x1="317.92" x2="317.92" y1="809.2" y2="922.5" stroke="#ededed" stroke-width="0.9"/>
<line x1="333.25" x2="333.25" y1="809.2" y2="922.5" stroke="#ededed" stroke-width="0.9"/>
<line x1="348.59" x2="348.59" y1="809.2" y2="922.5" stroke="#ededed" stroke-width="0.9"/>
<line x1="363.92" x2="363.92" y1="809.2" y2="922.5" stroke="#ededed" stroke-width="0.9"/>
<line x1="379.25" x2="379.25" y1="809.2" y2="922.5" stroke="#ededed" stroke-width="0.9"/>
<line x1="394.83" x2="394.83" y1="809.2" y2="922.5" stroke="#ededed" stroke-width="0.9"/>
<line x1="409.66" x2="409.66" y1="809.2" y2="922.5" stroke="#ededed" stroke-width="0.9"/>
<line x1="424.49" x2="424.49" y1="809.2" y2="922.5" stroke="#ededed" stroke-width="0.9"/>
<line x1="240.5" x2="431.5" y1="814.00" y2="814.00" stroke="#e8e8e8" stroke-width="1"/>
<line x1="240.5" x2="431.5" y1="839.90" y2="839.90" stroke="#e8e8e8" stroke-width="1"/>
<line x1="240.5" x2="431.5" y1="865.80" y2="865.80" stroke="#e8e8e8" stroke-width="1"/>
<line x1="240.5" x2="431.5" y1="891.70" y2="891.70" stroke="#e8e8e8" stroke-width="1"/>
<line x1="240.5" x2="431.5" y1="917.60" y2="917.60" stroke="#e8e8e8" stroke-width="1"/>
<line x1="248.80" x2="248.80" y1="809.2" y2="922.5" stroke="#e8e8e8" stroke-width="1"/>
<line x1="263.88" x2="263.88" y1="809.2" y2="922.5" stroke="#e8e8e8" stroke-width="1"/>
<line x1="279.46" x2="279.46" y1="809.2" y2="922.5" stroke="#e8e8e8" stroke-width="1"/>
<line x1="294.55" x2="294.55" y1="809.2" y2="922.5" stroke="#e8e8e8" stroke-width="1"/>
<line x1="310.13" x2="310.13" y1="809.2" y2="922.5" stroke="#e8e8e8" stroke-width="1"/>
<line x1="325.71" x2="325.71" y1="809.2" y2="922.5" stroke="#e8e8e8" stroke-width="1"/>
<line x1="340.79" x2="340.79" y1="809.2" y2="922.5" stroke="#e8e8e8" stroke-width="1"/>
<line x1="356.38" x2="356.38" y1="809.2" y2="922.5" stroke="#e8e8e8" stroke-width="1"/>
<line x1="371.46" x2="371.46" y1="809.2" y2="922.5" stroke="#e8e8e8" stroke-width="1"/>
<line x1="387.04" x2="387.04" y1="809.2" y2="922.5" stroke="#e8e8e8" stroke-width="1"/>
<line x1="402.63" x2="402.63" y1="809.2" y2="922.5" stroke="#e8e8e8" stroke-width="1"/>
<line x1="416.70" x2="416.70" y1="809.2" y2="922.5" stroke="#e8e8e8" stroke-width="1"/>
<path d="M248.30,917.60V837.02H277.80V917.60ZM277.80,917.60V848.53H283.10V917.60ZM283.10,917.60V837.02H295.70V917.60ZM295.70,917.60V848.53H352.00V917.60ZM352.00,917.60V837.02H360.00V917.60ZM360.00,917.60V848.53H377.70V917.60ZM377.70,917.60V837.02H389.20V917.60ZM389.20,917.60V825.51H424.00V917.60Z" fill="#d4d4d4" fill-opacity="0.75"/>
<line x1="240.5" x2="431.5" y1="865.80" y2="865.80" stroke="#1a1a1a" stroke-width="1" stroke-dasharray="4,3"/>
<path d="M328.05,876.10 C328.38,875.60 329.31,874.09 330.02,873.08 C330.72,872.07 331.65,871.82 332.28,870.05 C332.91,868.29 333.42,864.88 333.80,862.49 C334.18,860.09 334.18,856.44 334.55,855.68 C334.93,854.92 335.56,855.05 336.07,857.95 C336.57,860.85 336.92,870.18 337.58,873.08 C338.23,875.98 339.60,874.97 340.00,875.35" fill="none" stroke="#1d55d6" stroke-width="2.0" stroke-linejoin="round" stroke-linecap="round"/>
<path d="M332.00,871.57 C332.20,869.55 332.83,862.03 333.21,859.46 C333.59,856.89 333.84,856.01 334.27,856.13 C334.70,856.26 335.28,857.40 335.78,860.22 C336.29,863.04 336.79,870.48 337.30,873.08 C337.80,875.68 338.30,875.25 338.81,875.80 C339.31,876.36 339.82,877.42 340.32,876.41 C340.83,875.40 341.33,871.44 341.83,869.75 C342.34,868.06 342.72,866.67 343.35,866.27 C343.98,865.87 344.86,866.57 345.62,867.33 C346.37,868.09 347.13,870.48 347.89,870.81 C348.64,871.14 349.40,870.13 350.15,869.30 C350.91,868.46 351.79,866.65 352.42,865.82 C353.05,864.98 353.43,864.10 353.94,864.30 C354.44,864.51 354.82,865.62 355.45,867.03 C356.08,868.44 357.04,871.57 357.72,872.78 C358.40,873.99 358.90,874.62 359.53,874.29 C360.16,873.96 360.79,872.32 361.50,870.81 C362.21,869.30 363.01,866.90 363.77,865.21 C364.53,863.52 365.28,861.68 366.04,860.67 C366.80,859.66 367.55,859.54 368.31,859.16 C369.07,858.78 369.82,858.10 370.58,858.40 C371.33,858.71 372.22,859.66 372.85,860.98 C373.48,862.29 373.86,864.51 374.36,866.27 C374.86,868.04 375.24,871.06 375.87,871.57 C376.50,872.07 377.39,869.93 378.14,869.30 C378.90,868.67 379.66,867.36 380.41,867.78 C381.17,868.21 381.92,870.53 382.68,871.87 C383.44,873.20 384.19,875.30 384.95,875.80 C385.71,876.31 386.46,875.60 387.22,874.89 C387.98,874.19 388.73,872.42 389.49,871.57 C390.25,870.71 391.00,870.31 391.76,869.75 C392.51,869.20 393.27,868.82 394.03,868.24 C394.78,867.66 395.54,866.60 396.30,866.27 C397.05,865.94 397.81,866.45 398.57,866.27 C399.32,866.09 400.08,865.46 400.84,865.21 C401.59,864.96 402.35,864.91 403.10,864.76 C403.86,864.61 404.62,863.93 405.37,864.30 C406.13,864.68 406.89,866.12 407.64,867.03 C408.40,867.93 409.16,870.05 409.91,869.75 C410.67,869.45 411.43,866.37 412.18,865.21 C412.94,864.05 413.69,863.19 414.45,862.79 C415.21,862.39 415.96,862.54 416.72,862.79 C417.48,863.04 418.23,863.80 418.99,864.30 C419.75,864.81 420.63,865.24 421.26,865.82 C421.89,866.40 422.52,867.46 422.77,867.78" fill="none" stroke="#1d55d6" stroke-width="2.0" stroke-linejoin="round" stroke-linecap="round"/>
<path d="M248.77,869.30 C249.08,868.92 249.91,867.66 250.59,867.03 C251.27,866.40 252.10,865.51 252.86,865.51 C253.62,865.51 254.37,866.40 255.13,867.03 C255.89,867.66 256.64,868.79 257.40,869.30 C258.15,869.80 258.91,870.43 259.67,870.05 C260.42,869.67 261.18,867.78 261.94,867.03 C262.69,866.27 263.45,865.89 264.21,865.51 C264.96,865.14 265.72,864.25 266.48,864.76 C267.23,865.26 267.99,868.16 268.74,868.54 C269.50,868.92 270.26,867.53 271.01,867.03 C271.77,866.52 272.53,865.89 273.28,865.51 C274.04,865.14 274.80,865.14 275.55,864.76 C276.31,864.38 277.07,863.37 277.82,863.25 C278.58,863.12 279.33,863.50 280.09,864.00 C280.85,864.51 281.60,865.39 282.36,866.27 C283.12,867.15 283.92,868.16 284.63,869.30 C285.34,870.43 285.97,873.96 286.60,873.08 C287.23,872.20 287.81,867.15 288.41,864.00 C289.02,860.85 289.60,856.06 290.23,854.17 C290.86,852.28 291.61,852.02 292.19,852.66 C292.77,853.29 293.20,855.30 293.71,857.95 C294.21,860.60 294.64,866.27 295.22,868.54 C295.80,870.81 296.56,871.57 297.19,871.57 C297.82,871.57 298.32,869.67 299.00,868.54 C299.68,867.41 300.51,865.51 301.27,864.76 C302.03,864.00 302.78,864.00 303.54,864.00 C304.30,864.00 305.05,864.88 305.81,864.76 C306.57,864.63 307.40,862.99 308.08,863.25 C308.76,863.50 309.26,865.39 309.89,866.27 C310.52,867.15 311.15,868.41 311.86,868.54 C312.57,868.67 313.37,867.91 314.13,867.03 C314.89,866.14 315.69,864.13 316.40,863.25 C317.11,862.36 317.74,862.49 318.37,861.73 C319.00,860.98 319.50,859.08 320.18,858.71 C320.86,858.33 321.82,858.33 322.45,859.46 C323.08,860.60 323.33,863.88 323.96,865.51 C324.59,867.15 325.48,868.92 326.23,869.30 C326.99,869.67 327.87,868.67 328.50,867.78 C329.13,866.90 329.51,864.76 330.02,864.00 C330.52,863.25 331.02,864.00 331.53,863.25 C332.03,862.49 332.54,860.85 333.04,859.46 C333.55,858.08 334.30,855.68 334.55,854.92" fill="none" stroke="#8096c8" stroke-width="2.0" stroke-linejoin="round" stroke-linecap="round"/>
<path d="M332.00,857.19 C332.20,857.07 332.83,856.82 333.21,856.44 C333.59,856.06 333.84,854.42 334.27,854.92 C334.70,855.43 335.28,856.69 335.78,859.46 C336.29,862.24 336.79,869.04 337.30,871.57 C337.80,874.09 338.30,873.96 338.81,874.59 C339.31,875.22 339.82,876.36 340.32,875.35 C340.83,874.34 341.33,870.18 341.83,868.54 C342.34,866.90 342.72,865.77 343.35,865.51 C343.98,865.26 344.86,866.27 345.62,867.03 C346.37,867.78 347.13,869.80 347.89,870.05 C348.64,870.31 349.40,869.30 350.15,868.54 C350.91,867.78 351.79,866.27 352.42,865.51 C353.05,864.76 353.43,863.88 353.94,864.00 C354.44,864.13 354.82,865.01 355.45,866.27 C356.08,867.53 357.04,870.43 357.72,871.57 C358.40,872.70 358.90,873.33 359.53,873.08 C360.16,872.83 360.79,871.44 361.50,870.05 C362.21,868.67 363.01,866.40 363.77,864.76 C364.53,863.12 365.28,861.23 366.04,860.22 C366.80,859.21 367.55,859.08 368.31,858.71 C369.07,858.33 369.82,857.70 370.58,857.95 C371.33,858.20 372.22,858.96 372.85,860.22 C373.48,861.48 373.86,863.88 374.36,865.51 C374.86,867.15 375.24,869.55 375.87,870.05 C376.50,870.56 377.39,869.04 378.14,868.54 C378.90,868.04 379.66,866.65 380.41,867.03 C381.17,867.41 381.92,869.55 382.68,870.81 C383.44,872.07 384.19,874.09 384.95,874.59 C385.71,875.10 386.46,874.47 387.22,873.84 C387.98,873.20 388.73,871.57 389.49,870.81 C390.25,870.05 391.00,869.80 391.76,869.30 C392.51,868.79 393.27,868.29 394.03,867.78 C394.78,867.28 395.54,866.52 396.30,866.27 C397.05,866.02 397.81,866.52 398.57,866.27 C399.32,866.02 400.08,865.01 400.84,864.76 C401.59,864.51 402.35,864.88 403.10,864.76 C403.86,864.63 404.62,863.75 405.37,864.00 C406.13,864.25 406.89,865.51 407.64,866.27 C408.40,867.03 409.16,868.79 409.91,868.54 C410.67,868.29 411.43,865.77 412.18,864.76 C412.94,863.75 413.69,862.87 414.45,862.49 C415.21,862.11 415.96,862.24 416.72,862.49 C417.48,862.74 418.23,863.50 418.99,864.00 C419.75,864.51 420.63,865.01 421.26,865.51 C421.89,866.02 422.52,866.78 422.77,867.03" fill="none" stroke="#8096c8" stroke-width="2.0" stroke-linejoin="round" stroke-linecap="round"/>
<rect x="240.5" y="809.2" width="191" height="113.3" fill="none" stroke="#4a4a4a" stroke-width="1.0"/>
<line x1="248.80" x2="248.80" y1="922.5" y2="926.4" stroke="#333" stroke-width="1.05"/>
<text transform="translate(253.10,933.30) rotate(-45)" font-size="7.6" text-anchor="end" fill="#4d4d4d">2020-Apr</text>
<line x1="263.88" x2="263.88" y1="922.5" y2="926.4" stroke="#333" stroke-width="1.05"/>
<text transform="translate(268.18,933.30) rotate(-45)" font-size="7.6" text-anchor="end" fill="#4d4d4d">2020-May</text>
<line x1="279.46" x2="279.46" y1="922.5" y2="926.4" stroke="#333" stroke-width="1.05"/>
<text transform="translate(283.76,933.30) rotate(-45)" font-size="7.6" text-anchor="end" fill="#4d4d4d">2020-Jun</text>
<line x1="294.55" x2="294.55" y1="922.5" y2="926.4" stroke="#333" stroke-width="1.05"/>
<text transform="translate(298.85,933.30) rotate(-45)" font-size="7.6" text-anchor="end" fill="#4d4d4d">2020-Jul</text>
<line x1="310.13" x2="310.13" y1="922.5" y2="926.4" stroke="#333" stroke-width="1.05"/>
<text transform="translate(314.43,933.30) rotate(-45)" font-size="7.6" text-anchor="end" fill="#4d4d4d">2020-Aug</text>
<line x1="325.71" x2="325.71" y1="922.5" y2="926.4" stroke="#333" stroke-width="1.05"/>
<text transform="translate(330.01,933.30) rotate(-45)" font-size="7.6" text-anchor="end" fill="#4d4d4d">2020-Sep</text>
<line x1="340.79" x2="340.79" y1="922.5" y2="926.4" stroke="#333" stroke-width="1.05"/>
<text transform="translate(345.09,933.30) rotate(-45)" font-size="7.6" text-anchor="end" fill="#4d4d4d">2020-Oct</text>
<line x1="356.38" x2="356.38" y1="922.5" y2="926.4" stroke="#333" stroke-width="1.05"/>
<text transform="translate(360.68,933.30) rotate(-45)" font-size="7.6" text-anchor="end" fill="#4d4d4d">2020-Nov</text>
<line x1="371.46" x2="371.46" y1="922.5" y2="926.4" stroke="#333" stroke-width="1.05"/>
<text transform="translate(375.76,933.30) rotate(-45)" font-size="7.6" text-anchor="end" fill="#4d4d4d">2020-Dec</text>
<line x1="387.04" x2="387.04" y1="922.5" y2="926.4" stroke="#333" stroke-width="1.05"/>
<text transform="translate(391.34,933.30) rotate(-45)" font-size="7.6" text-anchor="end" fill="#4d4d4d">2021-Jan</text>
<line x1="402.63" x2="402.63" y1="922.5" y2="926.4" stroke="#333" stroke-width="1.05"/>
<text transform="translate(406.93,933.30) rotate(-45)" font-size="7.6" text-anchor="end" fill="#4d4d4d">2021-Feb</text>
<line x1="416.70" x2="416.70" y1="922.5" y2="926.4" stroke="#333" stroke-width="1.05"/>
<text transform="translate(421.00,933.30) rotate(-45)" font-size="7.6" text-anchor="end" fill="#4d4d4d">2021-Mar</text>
<text x="444.8" y="802.4" font-size="10.7" fill="#1a1a1a">USA</text>
<rect x="439.5" y="809.2" width="191" height="113.3" fill="#fff"/>
<line x1="439.5" x2="630.5" y1="826.95" y2="826.95" stroke="#ededed" stroke-width="0.9"/>
<line x1="439.5" x2="630.5" y1="852.85" y2="852.85" stroke="#ededed" stroke-width="0.9"/>
<line x1="439.5" x2="630.5" y1="878.75" y2="878.75" stroke="#ededed" stroke-width="0.9"/>
<line x1="439.5" x2="630.5" y1="904.65" y2="904.65" stroke="#ededed" stroke-width="0.9"/>
<line x1="454.74" x2="454.74" y1="809.2" y2="922.5" stroke="#ededed" stroke-width="0.9"/>
<line x1="470.07" x2="470.07" y1="809.2" y2="922.5" stroke="#ededed" stroke-width="0.9"/>
<line x1="485.41" x2="485.41" y1="809.2" y2="922.5" stroke="#ededed" stroke-width="0.9"/>
<line x1="500.74" x2="500.74" y1="809.2" y2="922.5" stroke="#ededed" stroke-width="0.9"/>
<line x1="516.32" x2="516.32" y1="809.2" y2="922.5" stroke="#ededed" stroke-width="0.9"/>
<line x1="531.65" x2="531.65" y1="809.2" y2="922.5" stroke="#ededed" stroke-width="0.9"/>
<line x1="546.99" x2="546.99" y1="809.2" y2="922.5" stroke="#ededed" stroke-width="0.9"/>
<line x1="562.32" x2="562.32" y1="809.2" y2="922.5" stroke="#ededed" stroke-width="0.9"/>
<line x1="577.65" x2="577.65" y1="809.2" y2="922.5" stroke="#ededed" stroke-width="0.9"/>
<line x1="593.23" x2="593.23" y1="809.2" y2="922.5" stroke="#ededed" stroke-width="0.9"/>
<line x1="608.06" x2="608.06" y1="809.2" y2="922.5" stroke="#ededed" stroke-width="0.9"/>
<line x1="622.89" x2="622.89" y1="809.2" y2="922.5" stroke="#ededed" stroke-width="0.9"/>
<line x1="439.5" x2="630.5" y1="814.00" y2="814.00" stroke="#e8e8e8" stroke-width="1"/>
<line x1="439.5" x2="630.5" y1="839.90" y2="839.90" stroke="#e8e8e8" stroke-width="1"/>
<line x1="439.5" x2="630.5" y1="865.80" y2="865.80" stroke="#e8e8e8" stroke-width="1"/>
<line x1="439.5" x2="630.5" y1="891.70" y2="891.70" stroke="#e8e8e8" stroke-width="1"/>
<line x1="439.5" x2="630.5" y1="917.60" y2="917.60" stroke="#e8e8e8" stroke-width="1"/>
<line x1="447.20" x2="447.20" y1="809.2" y2="922.5" stroke="#e8e8e8" stroke-width="1"/>
<line x1="462.28" x2="462.28" y1="809.2" y2="922.5" stroke="#e8e8e8" stroke-width="1"/>
<line x1="477.86" x2="477.86" y1="809.2" y2="922.5" stroke="#e8e8e8" stroke-width="1"/>
<line x1="492.95" x2="492.95" y1="809.2" y2="922.5" stroke="#e8e8e8" stroke-width="1"/>
<line x1="508.53" x2="508.53" y1="809.2" y2="922.5" stroke="#e8e8e8" stroke-width="1"/>
<line x1="524.11" x2="524.11" y1="809.2" y2="922.5" stroke="#e8e8e8" stroke-width="1"/>
<line x1="539.19" x2="539.19" y1="809.2" y2="922.5" stroke="#e8e8e8" stroke-width="1"/>
<line x1="554.78" x2="554.78" y1="809.2" y2="922.5" stroke="#e8e8e8" stroke-width="1"/>
<line x1="569.86" x2="569.86" y1="809.2" y2="922.5" stroke="#e8e8e8" stroke-width="1"/>
<line x1="585.44" x2="585.44" y1="809.2" y2="922.5" stroke="#e8e8e8" stroke-width="1"/>
<line x1="601.03" x2="601.03" y1="809.2" y2="922.5" stroke="#e8e8e8" stroke-width="1"/>
<line x1="615.10" x2="615.10" y1="809.2" y2="922.5" stroke="#e8e8e8" stroke-width="1"/>
<path d="M447.30,917.60V837.02H485.10V917.60ZM485.10,917.60V848.53H562.30V917.60ZM562.30,917.60V837.02H601.70V917.60ZM601.70,917.60V848.53H622.80V917.60Z" fill="#d4d4d4" fill-opacity="0.75"/>
<line x1="439.5" x2="630.5" y1="865.80" y2="865.80" stroke="#1a1a1a" stroke-width="1" stroke-dasharray="4,3"/>
<path d="M534.61,876.41 C534.94,875.60 535.85,873.13 536.58,871.57 C537.31,870.00 538.60,867.78 539.00,867.03" fill="none" stroke="#1d55d6" stroke-width="2.0" stroke-linejoin="round" stroke-linecap="round"/>
<path d="M534.33,876.10 C534.66,875.35 535.59,872.95 536.30,871.57 C537.00,870.18 537.81,868.67 538.56,867.78 C539.32,866.90 540.08,866.70 540.83,866.27 C541.59,865.84 542.47,865.46 543.10,865.21 C543.73,864.96 543.99,865.04 544.62,864.76 C545.25,864.48 546.13,863.62 546.89,863.55 C547.64,863.47 548.40,863.93 549.15,864.30 C549.91,864.68 550.67,865.31 551.42,865.82 C552.18,866.32 552.94,866.83 553.69,867.33 C554.45,867.83 555.21,868.19 555.96,868.84 C556.72,869.50 557.48,870.86 558.23,871.26 C558.99,871.67 559.74,872.02 560.50,871.26 C561.26,870.51 562.14,868.14 562.77,866.72 C563.40,865.31 563.73,863.30 564.28,862.79 C564.84,862.29 565.47,862.79 566.10,863.70 C566.73,864.61 567.36,867.38 568.07,868.24 C568.77,869.09 569.58,868.59 570.33,868.84 C571.09,869.09 571.85,870.00 572.60,869.75 C573.36,869.50 574.12,868.59 574.87,867.33 C575.63,866.07 576.39,863.45 577.14,862.19 C577.90,860.93 578.73,859.92 579.41,859.77 C580.09,859.61 580.60,859.69 581.23,861.28 C581.86,862.87 582.49,867.33 583.19,869.30 C583.90,871.26 584.71,872.90 585.46,873.08 C586.22,873.26 586.98,871.44 587.73,870.36 C588.49,869.27 589.25,867.33 590.00,866.57 C590.76,865.82 591.51,865.69 592.27,865.82 C593.03,865.94 593.78,866.95 594.54,867.33 C595.30,867.71 596.05,868.09 596.81,868.09 C597.57,868.09 598.32,867.63 599.08,867.33 C599.84,867.03 600.59,867.13 601.35,866.27 C602.10,865.41 602.99,863.07 603.62,862.19 C604.25,861.30 604.63,860.55 605.13,860.98 C605.63,861.40 605.89,863.50 606.64,864.76 C607.40,866.02 608.91,868.36 609.67,868.54 C610.43,868.72 610.55,866.40 611.18,865.82 C611.81,865.24 612.69,865.24 613.45,865.06 C614.21,864.88 614.96,865.11 615.72,864.76 C616.48,864.40 617.36,863.37 617.99,862.94 C618.62,862.51 618.87,861.81 619.50,862.19 C620.13,862.56 621.39,864.71 621.77,865.21" fill="none" stroke="#1d55d6" stroke-width="2.0" stroke-linejoin="round" stroke-linecap="round"/>
<path d="M447.77,873.84 C448.08,873.08 449.04,870.68 449.59,869.30 C450.14,867.91 450.47,866.02 451.10,865.51 C451.73,865.01 452.62,866.02 453.37,866.27 C454.13,866.52 454.89,867.03 455.64,867.03 C456.40,867.03 457.15,866.27 457.91,866.27 C458.67,866.27 459.42,867.03 460.18,867.03 C460.94,867.03 461.69,866.52 462.45,866.27 C463.21,866.02 463.96,865.64 464.72,865.51 C465.48,865.39 466.23,865.39 466.99,865.51 C467.74,865.64 468.50,866.27 469.26,866.27 C470.01,866.27 470.77,865.64 471.53,865.51 C472.28,865.39 473.04,865.64 473.80,865.51 C474.55,865.39 475.31,865.26 476.07,864.76 C476.82,864.25 477.58,863.25 478.33,862.49 C479.09,861.73 479.85,860.35 480.60,860.22 C481.36,860.09 482.12,860.85 482.87,861.73 C483.63,862.61 484.39,864.51 485.14,865.51 C485.90,866.52 486.66,867.28 487.41,867.78 C488.17,868.29 488.92,868.54 489.68,868.54 C490.44,868.54 491.19,867.78 491.95,867.78 C492.71,867.78 493.46,868.29 494.22,868.54 C494.98,868.79 495.73,869.42 496.49,869.30 C497.25,869.17 498.00,867.91 498.76,867.78 C499.51,867.66 500.27,868.41 501.03,868.54 C501.78,868.67 502.54,868.92 503.30,868.54 C504.05,868.16 504.81,866.78 505.57,866.27 C506.32,865.77 507.08,865.51 507.84,865.51 C508.59,865.51 509.35,866.27 510.10,866.27 C510.86,866.27 511.62,865.77 512.37,865.51 C513.13,865.26 513.89,865.01 514.64,864.76 C515.40,864.51 516.16,863.75 516.91,864.00 C517.67,864.25 518.43,865.77 519.18,866.27 C519.94,866.78 520.69,867.66 521.45,867.03 C522.21,866.40 523.04,863.37 523.72,862.49 C524.40,861.61 524.91,861.48 525.54,861.73 C526.17,861.98 526.80,862.99 527.50,864.00 C528.21,865.01 529.02,867.28 529.77,867.78 C530.53,868.29 531.28,867.53 532.04,867.03 C532.80,866.52 533.55,865.26 534.31,864.76 C535.07,864.25 536.20,864.13 536.58,864.00" fill="none" stroke="#8096c8" stroke-width="2.0" stroke-linejoin="round" stroke-linecap="round"/>
<path d="M535.54,863.25 C535.92,863.37 537.05,863.75 537.81,864.00 C538.56,864.25 539.32,864.51 540.08,864.76 C540.83,865.01 541.59,865.51 542.35,865.51 C543.10,865.51 543.86,865.14 544.62,864.76 C545.37,864.38 546.13,863.37 546.89,863.25 C547.64,863.12 548.40,863.62 549.15,864.00 C549.91,864.38 550.67,865.01 551.42,865.51 C552.18,866.02 552.94,866.52 553.69,867.03 C554.45,867.53 555.21,867.91 555.96,868.54 C556.72,869.17 557.48,870.43 558.23,870.81 C558.99,871.19 559.74,871.57 560.50,870.81 C561.26,870.05 562.14,867.66 562.77,866.27 C563.40,864.88 563.73,862.99 564.28,862.49 C564.84,861.98 565.47,862.36 566.10,863.25 C566.73,864.13 567.36,866.90 568.07,867.78 C568.77,868.67 569.58,868.29 570.33,868.54 C571.09,868.79 571.85,869.55 572.60,869.30 C573.36,869.04 574.12,868.29 574.87,867.03 C575.63,865.77 576.39,862.99 577.14,861.73 C577.90,860.47 578.73,859.59 579.41,859.46 C580.09,859.34 580.60,859.46 581.23,860.98 C581.86,862.49 582.49,866.65 583.19,868.54 C583.90,870.43 584.71,872.07 585.46,872.32 C586.22,872.57 586.98,871.06 587.73,870.05 C588.49,869.04 589.25,867.03 590.00,866.27 C590.76,865.51 591.51,865.39 592.27,865.51 C593.03,865.64 593.78,866.65 594.54,867.03 C595.30,867.41 596.05,867.78 596.81,867.78 C597.57,867.78 598.32,867.28 599.08,867.03 C599.84,866.78 600.59,867.03 601.35,866.27 C602.10,865.51 602.99,863.25 603.62,862.49 C604.25,861.73 604.63,861.35 605.13,861.73 C605.63,862.11 606.01,863.75 606.64,864.76 C607.27,865.77 608.16,867.66 608.91,867.78 C609.67,867.91 610.43,866.02 611.18,865.51 C611.94,865.01 612.69,864.88 613.45,864.76 C614.21,864.63 614.96,865.01 615.72,864.76 C616.48,864.51 617.23,863.50 617.99,863.25 C618.75,862.99 619.63,862.99 620.26,863.25 C620.89,863.50 621.52,864.51 621.77,864.76" fill="none" stroke="#8096c8" stroke-width="2.0" stroke-linejoin="round" stroke-linecap="round"/>
<rect x="439.5" y="809.2" width="191" height="113.3" fill="none" stroke="#4a4a4a" stroke-width="1.0"/>
<line x1="630.5" x2="634.3" y1="917.60" y2="917.60" stroke="#333" stroke-width="1.05"/>
<text x="636.9" y="921.80" font-size="10.5" fill="#4d4d4d">0</text>
<line x1="630.5" x2="634.3" y1="906.09" y2="906.09" stroke="#333" stroke-width="1.05"/>
<text x="636.9" y="910.29" font-size="10.5" fill="#4d4d4d">1</text>
<line x1="630.5" x2="634.3" y1="894.58" y2="894.58" stroke="#333" stroke-width="1.05"/>
<text x="636.9" y="898.78" font-size="10.5" fill="#4d4d4d">2</text>
<line x1="630.5" x2="634.3" y1="883.07" y2="883.07" stroke="#333" stroke-width="1.05"/>
<text x="636.9" y="887.27" font-size="10.5" fill="#4d4d4d">3</text>
<line x1="630.5" x2="634.3" y1="871.56" y2="871.56" stroke="#333" stroke-width="1.05"/>
<text x="636.9" y="875.76" font-size="10.5" fill="#4d4d4d">4</text>
<line x1="630.5" x2="634.3" y1="860.05" y2="860.05" stroke="#333" stroke-width="1.05"/>
<text x="636.9" y="864.25" font-size="10.5" fill="#4d4d4d">5</text>
<line x1="630.5" x2="634.3" y1="848.53" y2="848.53" stroke="#333" stroke-width="1.05"/>
<text x="636.9" y="852.73" font-size="10.5" fill="#4d4d4d">6</text>
<line x1="630.5" x2="634.3" y1="837.02" y2="837.02" stroke="#333" stroke-width="1.05"/>
<text x="636.9" y="841.22" font-size="10.5" fill="#4d4d4d">7</text>
<line x1="630.5" x2="634.3" y1="825.51" y2="825.51" stroke="#333" stroke-width="1.05"/>
<text x="636.9" y="829.71" font-size="10.5" fill="#4d4d4d">8</text>
<line x1="630.5" x2="634.3" y1="814.00" y2="814.00" stroke="#333" stroke-width="1.05"/>
<text x="636.9" y="818.20" font-size="10.5" fill="#4d4d4d">9</text>
<line x1="447.20" x2="447.20" y1="922.5" y2="926.4" stroke="#333" stroke-width="1.05"/>
<text transform="translate(451.50,933.30) rotate(-45)" font-size="7.6" text-anchor="end" fill="#4d4d4d">2020-Apr</text>
<line x1="462.28" x2="462.28" y1="922.5" y2="926.4" stroke="#333" stroke-width="1.05"/>
<text transform="translate(466.58,933.30) rotate(-45)" font-size="7.6" text-anchor="end" fill="#4d4d4d">2020-May</text>
<line x1="477.86" x2="477.86" y1="922.5" y2="926.4" stroke="#333" stroke-width="1.05"/>
<text transform="translate(482.16,933.30) rotate(-45)" font-size="7.6" text-anchor="end" fill="#4d4d4d">2020-Jun</text>
<line x1="492.95" x2="492.95" y1="922.5" y2="926.4" stroke="#333" stroke-width="1.05"/>
<text transform="translate(497.25,933.30) rotate(-45)" font-size="7.6" text-anchor="end" fill="#4d4d4d">2020-Jul</text>
<line x1="508.53" x2="508.53" y1="922.5" y2="926.4" stroke="#333" stroke-width="1.05"/>
<text transform="translate(512.83,933.30) rotate(-45)" font-size="7.6" text-anchor="end" fill="#4d4d4d">2020-Aug</text>
<line x1="524.11" x2="524.11" y1="922.5" y2="926.4" stroke="#333" stroke-width="1.05"/>
<text transform="translate(528.41,933.30) rotate(-45)" font-size="7.6" text-anchor="end" fill="#4d4d4d">2020-Sep</text>
<line x1="539.19" x2="539.19" y1="922.5" y2="926.4" stroke="#333" stroke-width="1.05"/>
<text transform="translate(543.49,933.30) rotate(-45)" font-size="7.6" text-anchor="end" fill="#4d4d4d">2020-Oct</text>
<line x1="554.78" x2="554.78" y1="922.5" y2="926.4" stroke="#333" stroke-width="1.05"/>
<text transform="translate(559.08,933.30) rotate(-45)" font-size="7.6" text-anchor="end" fill="#4d4d4d">2020-Nov</text>
<line x1="569.86" x2="569.86" y1="922.5" y2="926.4" stroke="#333" stroke-width="1.05"/>
<text transform="translate(574.16,933.30) rotate(-45)" font-size="7.6" text-anchor="end" fill="#4d4d4d">2020-Dec</text>
<line x1="585.44" x2="585.44" y1="922.5" y2="926.4" stroke="#333" stroke-width="1.05"/>
<text transform="translate(589.74,933.30) rotate(-45)" font-size="7.6" text-anchor="end" fill="#4d4d4d">2021-Jan</text>
<line x1="601.03" x2="601.03" y1="922.5" y2="926.4" stroke="#333" stroke-width="1.05"/>
<text transform="translate(605.33,933.30) rotate(-45)" font-size="7.6" text-anchor="end" fill="#4d4d4d">2021-Feb</text>
<line x1="615.10" x2="615.10" y1="922.5" y2="926.4" stroke="#333" stroke-width="1.05"/>
<text transform="translate(619.40,933.30) rotate(-45)" font-size="7.6" text-anchor="end" fill="#4d4d4d">2021-Mar</text>
<text x="3.4" y="509" font-size="12.4" font-weight="bold" fill="#000">b</text>
<text transform="translate(16.5,723) rotate(-90)" font-size="13.8" text-anchor="middle" fill="#000">Change of Rt</text>
<text transform="translate(646,723.6) rotate(90)" font-size="13.8" text-anchor="middle" fill="#000">Level of Stringency</text>
<text x="237.5" y="985.8" font-size="14.1" fill="#000">Mutation Type</text>
<rect x="333" y="978.3" width="12.8" height="5" fill="#1d55d6"/>
<text x="354.3" y="984.6" font-size="10.7" fill="#000">HF</text>
<rect x="377.4" y="978.3" width="12.6" height="5" fill="#8096c8"/>
<text x="398.6" y="984.6" font-size="10.7" fill="#000">notHF</text>
</svg>
</body></html>
